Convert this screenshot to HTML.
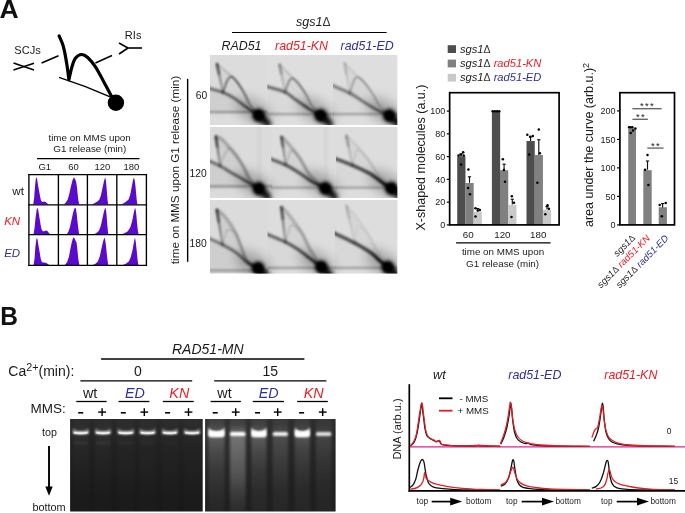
<!DOCTYPE html>
<html><head><meta charset="utf-8"><title>figure</title>
<style>
html,body{margin:0;padding:0;background:#fff;}
body{width:685px;height:513px;overflow:hidden;font-family:"Liberation Sans",sans-serif;}
svg{display:block;will-change:transform;}
svg text{font-family:"Liberation Sans",sans-serif;}
</style></head>
<body>
<svg width="685" height="513" viewBox="0 0 685 513">
<defs>
<filter id="b05" filterUnits="userSpaceOnUse" x="190" y="40" width="230" height="250"><feGaussianBlur stdDeviation="0.9"/></filter>
<filter id="b07" filterUnits="userSpaceOnUse" x="190" y="40" width="230" height="250"><feGaussianBlur stdDeviation="0.75"/></filter>
<filter id="b1" filterUnits="userSpaceOnUse" x="190" y="40" width="230" height="250"><feGaussianBlur stdDeviation="1.6"/></filter>
<filter id="b2" filterUnits="userSpaceOnUse" x="190" y="40" width="230" height="250"><feGaussianBlur stdDeviation="2.3"/></filter>
<filter id="b3" filterUnits="userSpaceOnUse" x="190" y="40" width="230" height="250"><feGaussianBlur stdDeviation="3.2"/></filter>
<filter id="b5" filterUnits="userSpaceOnUse" x="190" y="40" width="230" height="250"><feGaussianBlur stdDeviation="6"/></filter>
<clipPath id="gr0"><rect x="209.7" y="55.1" width="187.6" height="69.8"/></clipPath>
<clipPath id="gc00"><rect x="210" y="54.1" width="57.8" height="71.8"/></clipPath>
<linearGradient id="yg00" gradientUnits="userSpaceOnUse" x1="222.8" y1="92.4" x2="258.6" y2="115.3"><stop offset="0" stop-color="#000" stop-opacity="0.60"/><stop offset="0.3" stop-color="#000" stop-opacity="0.60"/><stop offset="0.7" stop-color="#000" stop-opacity="0.30"/><stop offset="1" stop-color="#000" stop-opacity="0.36"/></linearGradient>
<linearGradient id="sg00" gradientUnits="userSpaceOnUse" x1="217" y1="63.9" x2="222.8" y2="92.4"><stop offset="0" stop-color="#000" stop-opacity="0.66"/><stop offset="0.3" stop-color="#000" stop-opacity="0.51"/><stop offset="1" stop-color="#000" stop-opacity="0.28"/></linearGradient>
<linearGradient id="lg00" gradientUnits="userSpaceOnUse" x1="210" y1="88.7" x2="258.6" y2="115.3"><stop offset="0" stop-color="#000" stop-opacity="0.50"/><stop offset="0.6" stop-color="#000" stop-opacity="0.55"/><stop offset="1" stop-color="#000" stop-opacity="0.83"/></linearGradient>
<clipPath id="gc01"><rect x="267.3" y="54.1" width="66.2" height="71.8"/></clipPath>
<linearGradient id="yg01" gradientUnits="userSpaceOnUse" x1="285" y1="92.1" x2="320.6" y2="115.4"><stop offset="0" stop-color="#000" stop-opacity="0.46"/><stop offset="0.3" stop-color="#000" stop-opacity="0.46"/><stop offset="0.7" stop-color="#000" stop-opacity="0.23"/><stop offset="1" stop-color="#000" stop-opacity="0.28"/></linearGradient>
<linearGradient id="sg01" gradientUnits="userSpaceOnUse" x1="279.5" y1="64.4" x2="285" y2="92.1"><stop offset="0" stop-color="#000" stop-opacity="0.34"/><stop offset="0.3" stop-color="#000" stop-opacity="0.26"/><stop offset="1" stop-color="#000" stop-opacity="0.14"/></linearGradient>
<linearGradient id="lg01" gradientUnits="userSpaceOnUse" x1="267.5" y1="86.7" x2="320.6" y2="115.4"><stop offset="0" stop-color="#000" stop-opacity="0.49"/><stop offset="0.6" stop-color="#000" stop-opacity="0.54"/><stop offset="1" stop-color="#000" stop-opacity="0.81"/></linearGradient>
<clipPath id="gc02"><rect x="333" y="54.1" width="64.7" height="71.8"/></clipPath>
<linearGradient id="yg02" gradientUnits="userSpaceOnUse" x1="349.7" y1="93.1" x2="389.3" y2="115.6"><stop offset="0" stop-color="#000" stop-opacity="0.33"/><stop offset="0.3" stop-color="#000" stop-opacity="0.33"/><stop offset="0.7" stop-color="#000" stop-opacity="0.17"/><stop offset="1" stop-color="#000" stop-opacity="0.20"/></linearGradient>
<linearGradient id="sg02" gradientUnits="userSpaceOnUse" x1="344.6" y1="63.2" x2="349.7" y2="93.1"><stop offset="0" stop-color="#000" stop-opacity="0.18"/><stop offset="0.3" stop-color="#000" stop-opacity="0.14"/><stop offset="1" stop-color="#000" stop-opacity="0.08"/></linearGradient>
<linearGradient id="lg02" gradientUnits="userSpaceOnUse" x1="333.3" y1="85.8" x2="389.3" y2="115.6"><stop offset="0" stop-color="#000" stop-opacity="0.42"/><stop offset="0.6" stop-color="#000" stop-opacity="0.47"/><stop offset="1" stop-color="#000" stop-opacity="0.70"/></linearGradient>
<clipPath id="gr1"><rect x="209.7" y="127.1" width="187.6" height="70.8"/></clipPath>
<clipPath id="gc10"><rect x="210" y="126.1" width="61.8" height="72.8"/></clipPath>
<linearGradient id="yg10" gradientUnits="userSpaceOnUse" x1="220.1" y1="166" x2="258.8" y2="188.6"><stop offset="0" stop-color="#000" stop-opacity="0.17"/><stop offset="0.3" stop-color="#000" stop-opacity="0.17"/><stop offset="0.7" stop-color="#000" stop-opacity="0.09"/><stop offset="1" stop-color="#000" stop-opacity="0.10"/></linearGradient>
<linearGradient id="sg10" gradientUnits="userSpaceOnUse" x1="215.9" y1="136.4" x2="220.1" y2="166"><stop offset="0" stop-color="#000" stop-opacity="0.74"/><stop offset="0.3" stop-color="#000" stop-opacity="0.57"/><stop offset="1" stop-color="#000" stop-opacity="0.31"/></linearGradient>
<linearGradient id="lg10" gradientUnits="userSpaceOnUse" x1="210" y1="161.3" x2="258.8" y2="188.6"><stop offset="0" stop-color="#000" stop-opacity="0.49"/><stop offset="0.6" stop-color="#000" stop-opacity="0.54"/><stop offset="1" stop-color="#000" stop-opacity="0.81"/></linearGradient>
<clipPath id="gc11"><rect x="271.3" y="126.1" width="65.2" height="72.8"/></clipPath>
<linearGradient id="yg11" gradientUnits="userSpaceOnUse" x1="285.7" y1="164.9" x2="325.3" y2="188.3"><stop offset="0" stop-color="#000" stop-opacity="0.17"/><stop offset="0.3" stop-color="#000" stop-opacity="0.17"/><stop offset="0.7" stop-color="#000" stop-opacity="0.09"/><stop offset="1" stop-color="#000" stop-opacity="0.10"/></linearGradient>
<linearGradient id="sg11" gradientUnits="userSpaceOnUse" x1="281.5" y1="136.8" x2="285.7" y2="164.9"><stop offset="0" stop-color="#000" stop-opacity="0.64"/><stop offset="0.3" stop-color="#000" stop-opacity="0.49"/><stop offset="1" stop-color="#000" stop-opacity="0.27"/></linearGradient>
<linearGradient id="lg11" gradientUnits="userSpaceOnUse" x1="271.7" y1="159.4" x2="325.3" y2="188.3"><stop offset="0" stop-color="#000" stop-opacity="0.52"/><stop offset="0.6" stop-color="#000" stop-opacity="0.58"/><stop offset="1" stop-color="#000" stop-opacity="0.87"/></linearGradient>
<clipPath id="gc12"><rect x="336" y="126.1" width="61.7" height="72.8"/></clipPath>
<linearGradient id="yg12" gradientUnits="userSpaceOnUse" x1="352.3" y1="165.2" x2="391.3" y2="188.3"><stop offset="0" stop-color="#000" stop-opacity="0.10"/><stop offset="0.3" stop-color="#000" stop-opacity="0.10"/><stop offset="0.7" stop-color="#000" stop-opacity="0.05"/><stop offset="1" stop-color="#000" stop-opacity="0.06"/></linearGradient>
<linearGradient id="sg12" gradientUnits="userSpaceOnUse" x1="346.3" y1="135.6" x2="352.3" y2="165.2"><stop offset="0" stop-color="#000" stop-opacity="0.30"/><stop offset="0.3" stop-color="#000" stop-opacity="0.23"/><stop offset="1" stop-color="#000" stop-opacity="0.13"/></linearGradient>
<linearGradient id="lg12" gradientUnits="userSpaceOnUse" x1="336.2" y1="159" x2="391.3" y2="188.3"><stop offset="0" stop-color="#000" stop-opacity="0.59"/><stop offset="0.6" stop-color="#000" stop-opacity="0.65"/><stop offset="1" stop-color="#000" stop-opacity="0.98"/></linearGradient>
<clipPath id="gr2"><rect x="209.7" y="200.1" width="187.6" height="73.3"/></clipPath>
<clipPath id="gc20"><rect x="210" y="199.1" width="58.1" height="75.3"/></clipPath>
<linearGradient id="yg20" gradientUnits="userSpaceOnUse" x1="222.4" y1="244.7" x2="258" y2="268.2"><stop offset="0" stop-color="#000" stop-opacity="0.15"/><stop offset="0.3" stop-color="#000" stop-opacity="0.15"/><stop offset="0.7" stop-color="#000" stop-opacity="0.07"/><stop offset="1" stop-color="#000" stop-opacity="0.09"/></linearGradient>
<linearGradient id="sg20" gradientUnits="userSpaceOnUse" x1="216.9" y1="209.6" x2="222.4" y2="244.7"><stop offset="0" stop-color="#000" stop-opacity="0.74"/><stop offset="0.3" stop-color="#000" stop-opacity="0.57"/><stop offset="1" stop-color="#000" stop-opacity="0.31"/></linearGradient>
<linearGradient id="lg20" gradientUnits="userSpaceOnUse" x1="210" y1="238.9" x2="258" y2="268.2"><stop offset="0" stop-color="#000" stop-opacity="0.44"/><stop offset="0.6" stop-color="#000" stop-opacity="0.49"/><stop offset="1" stop-color="#000" stop-opacity="0.73"/></linearGradient>
<clipPath id="gc21"><rect x="267.6" y="199.1" width="67.7" height="75.3"/></clipPath>
<linearGradient id="yg21" gradientUnits="userSpaceOnUse" x1="285.3" y1="242" x2="321.3" y2="267"><stop offset="0" stop-color="#000" stop-opacity="0.15"/><stop offset="0.3" stop-color="#000" stop-opacity="0.15"/><stop offset="0.7" stop-color="#000" stop-opacity="0.07"/><stop offset="1" stop-color="#000" stop-opacity="0.09"/></linearGradient>
<linearGradient id="sg21" gradientUnits="userSpaceOnUse" x1="281.4" y1="206.9" x2="285.3" y2="242"><stop offset="0" stop-color="#000" stop-opacity="0.69"/><stop offset="0.3" stop-color="#000" stop-opacity="0.53"/><stop offset="1" stop-color="#000" stop-opacity="0.29"/></linearGradient>
<linearGradient id="lg21" gradientUnits="userSpaceOnUse" x1="268.1" y1="234.7" x2="321.3" y2="267"><stop offset="0" stop-color="#000" stop-opacity="0.52"/><stop offset="0.6" stop-color="#000" stop-opacity="0.58"/><stop offset="1" stop-color="#000" stop-opacity="0.87"/></linearGradient>
<clipPath id="gc22"><rect x="334.8" y="199.1" width="62.9" height="75.3"/></clipPath>
<linearGradient id="yg22" gradientUnits="userSpaceOnUse" x1="354.6" y1="243" x2="387.8" y2="267.3"><stop offset="0" stop-color="#000" stop-opacity="0.05"/><stop offset="0.3" stop-color="#000" stop-opacity="0.05"/><stop offset="0.7" stop-color="#000" stop-opacity="0.03"/><stop offset="1" stop-color="#000" stop-opacity="0.03"/></linearGradient>
<linearGradient id="sg22" gradientUnits="userSpaceOnUse" x1="346.4" y1="205.8" x2="354.6" y2="243"><stop offset="0" stop-color="#000" stop-opacity="0.17"/><stop offset="0.3" stop-color="#000" stop-opacity="0.13"/><stop offset="1" stop-color="#000" stop-opacity="0.07"/></linearGradient>
<linearGradient id="lg22" gradientUnits="userSpaceOnUse" x1="335.6" y1="233.9" x2="387.8" y2="267.3"><stop offset="0" stop-color="#000" stop-opacity="0.59"/><stop offset="0.6" stop-color="#000" stop-opacity="0.65"/><stop offset="1" stop-color="#000" stop-opacity="0.98"/></linearGradient>
<filter id="gb1" filterUnits="userSpaceOnUse" x="60" y="410" width="290" height="110"><feGaussianBlur stdDeviation="0.8"/></filter>
<filter id="gb15" filterUnits="userSpaceOnUse" x="60" y="410" width="290" height="110"><feGaussianBlur stdDeviation="1.3"/></filter>
<filter id="gb2" filterUnits="userSpaceOnUse" x="60" y="410" width="290" height="110"><feGaussianBlur stdDeviation="1.8 2.5"/></filter>
<clipPath id="gbc1"><rect x="70.1" y="418.9" width="132.6" height="92.7"/></clipPath>
<clipPath id="gbc2"><rect x="205.1" y="418.9" width="130.5" height="92.7"/></clipPath>
<linearGradient id="gglow1" x1="0" y1="0" x2="0" y2="1"><stop offset="0" stop-color="#fff" stop-opacity="0.07"/><stop offset="0.35" stop-color="#fff" stop-opacity="0.03"/><stop offset="0.8" stop-color="#fff" stop-opacity="0"/></linearGradient>
<linearGradient id="gglow2" x1="0" y1="0" x2="0.25" y2="1"><stop offset="0" stop-color="#fff" stop-opacity="0.10"/><stop offset="0.4" stop-color="#fff" stop-opacity="0.05"/><stop offset="0.85" stop-color="#fff" stop-opacity="0.01"/></linearGradient>
<linearGradient id="sm10" x1="0" y1="0" x2="0" y2="1"><stop offset="0" stop-color="#fff" stop-opacity="0.02"/><stop offset="0.1" stop-color="#fff" stop-opacity="0.025"/><stop offset="0.15" stop-color="#fff" stop-opacity="0.05"/><stop offset="0.3" stop-color="#fff" stop-opacity="0.03"/><stop offset="0.6" stop-color="#fff" stop-opacity="0.015"/><stop offset="1" stop-color="#fff" stop-opacity="0.006"/></linearGradient>
<linearGradient id="sm11" x1="0" y1="0" x2="0" y2="1"><stop offset="0" stop-color="#fff" stop-opacity="0.02"/><stop offset="0.1" stop-color="#fff" stop-opacity="0.025"/><stop offset="0.15" stop-color="#fff" stop-opacity="0.05"/><stop offset="0.3" stop-color="#fff" stop-opacity="0.03"/><stop offset="0.6" stop-color="#fff" stop-opacity="0.015"/><stop offset="1" stop-color="#fff" stop-opacity="0.006"/></linearGradient>
<linearGradient id="sm12" x1="0" y1="0" x2="0" y2="1"><stop offset="0" stop-color="#fff" stop-opacity="0.02"/><stop offset="0.1" stop-color="#fff" stop-opacity="0.025"/><stop offset="0.15" stop-color="#fff" stop-opacity="0.03"/><stop offset="0.3" stop-color="#fff" stop-opacity="0.018"/><stop offset="0.6" stop-color="#fff" stop-opacity="0.015"/><stop offset="1" stop-color="#fff" stop-opacity="0.006"/></linearGradient>
<linearGradient id="sm13" x1="0" y1="0" x2="0" y2="1"><stop offset="0" stop-color="#fff" stop-opacity="0.02"/><stop offset="0.1" stop-color="#fff" stop-opacity="0.025"/><stop offset="0.15" stop-color="#fff" stop-opacity="0.03"/><stop offset="0.3" stop-color="#fff" stop-opacity="0.018"/><stop offset="0.6" stop-color="#fff" stop-opacity="0.015"/><stop offset="1" stop-color="#fff" stop-opacity="0.006"/></linearGradient>
<linearGradient id="sm14" x1="0" y1="0" x2="0" y2="1"><stop offset="0" stop-color="#fff" stop-opacity="0.02"/><stop offset="0.1" stop-color="#fff" stop-opacity="0.025"/><stop offset="0.15" stop-color="#fff" stop-opacity="0.022"/><stop offset="0.3" stop-color="#fff" stop-opacity="0.013199999999999998"/><stop offset="0.6" stop-color="#fff" stop-opacity="0.015"/><stop offset="1" stop-color="#fff" stop-opacity="0.006"/></linearGradient>
<linearGradient id="sm15" x1="0" y1="0" x2="0" y2="1"><stop offset="0" stop-color="#fff" stop-opacity="0.02"/><stop offset="0.1" stop-color="#fff" stop-opacity="0.025"/><stop offset="0.15" stop-color="#fff" stop-opacity="0.022"/><stop offset="0.3" stop-color="#fff" stop-opacity="0.013199999999999998"/><stop offset="0.6" stop-color="#fff" stop-opacity="0.015"/><stop offset="1" stop-color="#fff" stop-opacity="0.006"/></linearGradient>
<linearGradient id="s2a" x1="0" y1="0" x2="0" y2="1"><stop offset="0" stop-color="#fff" stop-opacity="0.06"/><stop offset="0.1" stop-color="#fff" stop-opacity="0.09"/><stop offset="0.2" stop-color="#fff" stop-opacity="0.25"/><stop offset="0.35" stop-color="#fff" stop-opacity="0.16"/><stop offset="0.55" stop-color="#fff" stop-opacity="0.09"/><stop offset="0.8" stop-color="#fff" stop-opacity="0.05"/><stop offset="1" stop-color="#fff" stop-opacity="0.035"/></linearGradient>
<linearGradient id="s2b" x1="0" y1="0" x2="0" y2="1"><stop offset="0" stop-color="#fff" stop-opacity="0.06"/><stop offset="0.1" stop-color="#fff" stop-opacity="0.08"/><stop offset="0.2" stop-color="#fff" stop-opacity="0.34"/><stop offset="0.4" stop-color="#fff" stop-opacity="0.28"/><stop offset="0.6" stop-color="#fff" stop-opacity="0.21"/><stop offset="0.75" stop-color="#fff" stop-opacity="0.13"/><stop offset="0.9" stop-color="#fff" stop-opacity="0.07"/><stop offset="1" stop-color="#fff" stop-opacity="0.05"/></linearGradient>
<linearGradient id="s2c" x1="0" y1="0" x2="0" y2="1"><stop offset="0" stop-color="#fff" stop-opacity="0.05"/><stop offset="0.1" stop-color="#fff" stop-opacity="0.07"/><stop offset="0.2" stop-color="#fff" stop-opacity="0.17"/><stop offset="0.4" stop-color="#fff" stop-opacity="0.12"/><stop offset="0.6" stop-color="#fff" stop-opacity="0.08"/><stop offset="0.8" stop-color="#fff" stop-opacity="0.05"/><stop offset="1" stop-color="#fff" stop-opacity="0.035"/></linearGradient>
<linearGradient id="s2d" x1="0" y1="0" x2="0" y2="1"><stop offset="0" stop-color="#fff" stop-opacity="0.06"/><stop offset="0.1" stop-color="#fff" stop-opacity="0.08"/><stop offset="0.2" stop-color="#fff" stop-opacity="0.21"/><stop offset="0.35" stop-color="#fff" stop-opacity="0.13"/><stop offset="0.55" stop-color="#fff" stop-opacity="0.08"/><stop offset="0.8" stop-color="#fff" stop-opacity="0.045"/><stop offset="1" stop-color="#fff" stop-opacity="0.035"/></linearGradient>
<linearGradient id="s2e" x1="0" y1="0" x2="0" y2="1"><stop offset="0" stop-color="#fff" stop-opacity="0.04"/><stop offset="0.1" stop-color="#fff" stop-opacity="0.06"/><stop offset="0.2" stop-color="#fff" stop-opacity="0.14"/><stop offset="0.4" stop-color="#fff" stop-opacity="0.09"/><stop offset="0.6" stop-color="#fff" stop-opacity="0.06"/><stop offset="0.8" stop-color="#fff" stop-opacity="0.04"/><stop offset="1" stop-color="#fff" stop-opacity="0.03"/></linearGradient>
</defs>
<rect x="0" y="0" width="685" height="513" fill="#ffffff"/>
<text x="-0.6" y="18.1" font-size="26.5" text-anchor="start" fill="#111" font-weight="bold">A</text>
<text transform="translate(0.35,324.6) scale(0.935,1)" font-size="26.2" font-weight="bold" fill="#111">B</text>
<text x="14.3" y="54.3" font-size="11.1" text-anchor="start" fill="#1a1a1a">SCJs</text>
<text x="124.8" y="39.1" font-size="11.1" text-anchor="start" fill="#1a1a1a">RIs</text>
<line x1="13.5" y1="63" x2="34" y2="70" stroke="#000" stroke-width="1.6"/>
<line x1="13.5" y1="70" x2="34" y2="63.3" stroke="#000" stroke-width="1.6"/>
<line x1="41.6" y1="63" x2="58.5" y2="55.7" stroke="#000" stroke-width="1.6"/>
<line x1="95.4" y1="63" x2="112" y2="55.4" stroke="#000" stroke-width="1.6"/>
<line x1="119" y1="43" x2="128" y2="48" stroke="#000" stroke-width="1.6"/>
<line x1="119" y1="54" x2="128" y2="48" stroke="#000" stroke-width="1.6"/>
<line x1="128" y1="48" x2="142" y2="48" stroke="#000" stroke-width="1.6"/>
<path d="M59,77.4 Q86,86 112,97.6" fill="none" stroke="#000" stroke-width="1.5"/>
<path d="M59.1,35.9 C59.8,37.6 61.9,41.4 63.2,46.0 C64.5,50.6 65.8,58.0 66.7,63.6 C67.7,69.2 68.5,77.0 68.9,79.7 C69.4,77.6 70.8,70.7 71.9,67.1 C73.0,63.5 73.8,60.4 75.4,58.3 C77.0,56.2 79.5,54.6 81.6,54.5 C83.6,54.4 85.4,55.4 87.7,57.5 C90.0,59.6 92.8,62.9 95.6,67.1 C98.4,71.3 101.6,77.8 104.4,82.9 C107.2,88.0 111.0,95.3 112.3,97.8" fill="none" stroke="#000" stroke-width="3.2" stroke-linecap="round" stroke-linejoin="round"/>
<circle cx="115.9" cy="102.8" r="8.2" fill="#000"/>
<text x="89.6" y="140.6" font-size="9.82" text-anchor="middle" fill="#1a1a1a">time on MMS upon</text>
<text x="89.8" y="152.4" font-size="9.82" text-anchor="middle" fill="#1a1a1a">G1 release (min)</text>
<line x1="37" y1="158.5" x2="139.5" y2="158.5" stroke="#000" stroke-width="1.25"/>
<text x="44.8" y="169.5" font-size="9.5" text-anchor="middle" fill="#1a1a1a">G1</text>
<text x="73.5" y="169.5" font-size="9.5" text-anchor="middle" fill="#1a1a1a">60</text>
<text x="102.4" y="169.5" font-size="9.5" text-anchor="middle" fill="#1a1a1a">120</text>
<text x="131.4" y="169.5" font-size="9.5" text-anchor="middle" fill="#1a1a1a">180</text>
<text x="24" y="195.2" font-size="11.7" text-anchor="end" fill="#1a1a1a">wt</text>
<text x="4.2" y="224.7" font-size="11.5" text-anchor="start" fill="#ed1c24" font-style="italic">KN</text>
<text x="4.2" y="257.2" font-size="11.5" text-anchor="start" fill="#2e3192" font-style="italic">ED</text>
<polygon points="33.2,204.6 34.1,198.4 35.0,186.5 35.8,179.1 36.4,177.2 37.1,179.1 38.1,185.5 39.2,191.5 40.1,196.5 41.0,200.4 42.1,202.0 44.3,201.6 45.9,202.2 47.4,203.6 48.9,204.6" fill="#5a0acd"/>
<polygon points="63.8,204.6 65.9,202.4 67.7,199.4 69.4,193.5 70.9,186.5 72.4,180.6 73.7,177.6 75.0,178.8 76.2,182.1 77.0,187.5 77.7,194.5 78.4,200.4 79.2,204.6" fill="#5a0acd"/>
<polygon points="91.6,204.6 94.4,203.2 97.4,201.4 99.4,199.4 100.9,195.5 102.4,188.5 103.9,181.6 105.1,177.6 105.8,179.6 106.4,185.5 107.0,193.5 107.6,200.4 108.2,204.6" fill="#5a0acd"/>
<polygon points="120.4,204.6 123.8,203.2 126.8,200.9 128.6,199.4 130.3,194.5 131.8,186.5 133.0,180.1 133.8,177.8 134.6,179.6 135.4,185.5 136.2,194.5 136.8,200.4 137.4,204.6" fill="#5a0acd"/>
<polygon points="33.5,234.4 34.5,228.3 35.7,216.6 36.7,209.7 37.5,207.7 38.2,209.7 39.1,215.6 40.1,221.5 40.9,226.4 41.7,229.8 42.9,231.3 44.4,231.3 45.9,230.5 47.4,231.1 48.9,233.0 50.4,234.4" fill="#5a0acd"/>
<polygon points="66.6,234.4 68.4,231.8 69.9,227.3 71.4,220.5 72.9,213.6 74.2,208.9 75.2,207.5 76.0,209.2 76.8,214.6 77.6,222.4 78.4,229.3 79.2,234.4" fill="#5a0acd"/>
<polygon points="93.4,234.4 96.4,233.0 98.9,230.8 100.9,225.4 102.4,218.5 103.9,211.7 105.2,207.5 106.0,209.7 106.6,215.6 107.2,223.4 107.8,230.3 108.4,234.4" fill="#5a0acd"/>
<polygon points="121.4,234.4 124.8,233.0 127.8,231.3 130.3,227.3 132.3,220.5 133.8,212.6 135.0,207.7 135.6,209.2 136.4,215.6 137.2,224.4 137.8,230.3 138.6,234.4" fill="#5a0acd"/>
<polygon points="33.5,265.2 34.5,258.9 35.4,246.8 36.3,239.7 36.9,237.8 37.6,239.7 38.5,245.7 39.6,251.8 40.4,256.9 41.3,260.9 42.5,262.6 44.4,262.6 46.4,262.9 48.2,264.2 49.7,265.2" fill="#5a0acd"/>
<polygon points="64.6,265.2 66.9,262.5 68.9,256.9 70.4,248.8 71.9,241.7 73.2,237.6 74.4,238.1 75.6,240.7 76.6,242.7 77.4,249.8 78.2,257.9 79.4,265.2" fill="#5a0acd"/>
<polygon points="92.4,265.2 95.4,263.8 97.9,261.4 99.9,255.9 101.4,248.8 103.0,241.7 104.4,237.4 105.2,239.7 106.0,245.7 106.8,253.8 107.6,260.9 108.4,265.2" fill="#5a0acd"/>
<polygon points="122.4,265.2 125.8,263.8 128.8,261.4 130.8,256.9 132.6,249.8 134.0,241.7 134.9,237.4 135.6,240.7 136.4,247.8 137.2,255.9 137.8,261.4 138.4,265.2" fill="#5a0acd"/>
<line x1="28.9" y1="173.95" x2="28.9" y2="266.04999999999995" stroke="#000" stroke-width="1.35"/>
<line x1="58.4" y1="173.95" x2="58.4" y2="266.04999999999995" stroke="#000" stroke-width="1.35"/>
<line x1="87.4" y1="173.95" x2="87.4" y2="266.04999999999995" stroke="#000" stroke-width="1.35"/>
<line x1="116.8" y1="173.95" x2="116.8" y2="266.04999999999995" stroke="#000" stroke-width="1.35"/>
<line x1="146.4" y1="173.95" x2="146.4" y2="266.04999999999995" stroke="#000" stroke-width="1.35"/>
<line x1="28.25" y1="174.6" x2="147.05" y2="174.6" stroke="#000" stroke-width="1.35"/>
<line x1="28.25" y1="204.8" x2="147.05" y2="204.8" stroke="#000" stroke-width="1.35"/>
<line x1="28.25" y1="234.6" x2="147.05" y2="234.6" stroke="#000" stroke-width="1.35"/>
<line x1="28.25" y1="265.4" x2="147.05" y2="265.4" stroke="#000" stroke-width="1.35"/>
<text x="296" y="26.3" font-size="12.5" fill="#1a1a1a"><tspan font-style="italic">sgs1</tspan><tspan font-size="11.9" fill="#333">Δ</tspan></text>
<line x1="232" y1="32.5" x2="386.6" y2="32.5" stroke="#000" stroke-width="1.2"/>
<text x="221.5" y="50.3" font-size="12.4" text-anchor="start" fill="#1a1a1a" font-style="italic">RAD51</text>
<text x="275" y="50.3" font-size="12.4" text-anchor="start" fill="#ed1c24" font-style="italic">rad51-KN</text>
<text x="340.6" y="50.3" font-size="12.4" text-anchor="start" fill="#2e3192" font-style="italic">rad51-ED</text>
<line x1="187.65" y1="78.8" x2="187.65" y2="261.8" stroke="#000" stroke-width="1.4"/>
<text x="179" y="170" font-size="11.7" text-anchor="middle" fill="#1a1a1a" transform="rotate(-90 179 170)">time on MMS upon G1 release (min)</text>
<text x="207.2" y="98.7" font-size="10.3" text-anchor="end" fill="#1a1a1a">60</text>
<text x="206.8" y="176.6" font-size="10.3" text-anchor="end" fill="#1a1a1a">120</text>
<text x="206.8" y="246.7" font-size="10.3" text-anchor="end" fill="#1a1a1a">180</text>
<g clip-path="url(#gr0)">
<rect x="209.7" y="55.1" width="187.6" height="69.8" fill="#dcdcdc"/>
<rect x="210" y="54.1" width="57.9" height="71.8" fill="rgb(220,220,220)"/>
<rect x="267.3" y="54.1" width="66.3" height="71.8" fill="rgb(222,222,222)"/>
<rect x="333" y="54.1" width="64.8" height="71.8" fill="rgb(222,222,222)"/>
<ellipse cx="252.60000000000002" cy="114.3" rx="20" ry="10" fill="#000" opacity="0.26" filter="url(#b5)" transform="rotate(33 258.6 115.3)"/>
<ellipse cx="314.6" cy="114.4" rx="20" ry="10" fill="#000" opacity="0.26" filter="url(#b5)" transform="rotate(33 320.6 115.4)"/>
<ellipse cx="383.3" cy="114.6" rx="20" ry="10" fill="#000" opacity="0.26" filter="url(#b5)" transform="rotate(33 389.3 115.6)"/>
<g clip-path="url(#gc00)">
<polygon points="207.0,88.7 222.8,92.4 234.2,98.2 246.0,107.0 258.6,115.3 258.6,113.0 207.0,113.0" fill="#000" opacity="0.06" filter="url(#b3)"/>
<line x1="207" y1="112.0" x2="270.3" y2="112.01" stroke="#000" stroke-width="2.2" opacity="0.33" filter="url(#b05)"/>
<line x1="259.1" y1="53.1" x2="259.11" y2="115.3" stroke="#000" stroke-width="3" opacity="0.0" filter="url(#b1)"/>
<polygon points="217.0,63.9 231.5,76.0 234.1,78.5 237.8,83.0 241.3,88.2 245.6,95.6 249.9,104.6 258.6,115.3 246.0,107.0 234.2,98.2 222.8,92.4" fill="#000" opacity="0.03" filter="url(#b1)"/>
<path d="M217.0,63.9 C219.4,65.9 228.6,73.6 231.5,76.0 C234.4,78.4 233.1,77.4 234.1,78.5 C235.2,79.7 236.6,81.4 237.8,83.0 C239.0,84.6 240.0,86.1 241.3,88.2 C242.6,90.3 244.1,92.9 245.6,95.6 C247.0,98.4 247.7,101.3 249.9,104.6 C252.0,107.9 257.1,113.5 258.6,115.3" fill="none" stroke="#000" stroke-width="1.8" opacity="0.18" filter="url(#b05)"/>
<path d="M222.8,92.4 C223.5,90.6 225.9,83.8 226.9,81.4 C227.9,79.0 228.4,78.6 229.1,77.8 C229.8,77.0 230.2,76.7 231.0,76.8 C231.8,76.9 233.0,77.5 234.1,78.5 C235.2,79.6 236.6,81.4 237.8,83.0 C239.0,84.6 240.0,86.1 241.3,88.2 C242.6,90.3 244.1,92.9 245.6,95.6 C247.0,98.4 247.7,101.3 249.9,104.6 C252.0,107.9 257.1,113.5 258.6,115.3" fill="none" stroke="url(#yg00)" stroke-width="1.55" filter="url(#b05)"/>
<path d="M217,63.9 L222.8,92.4" fill="none" stroke="url(#sg00)" stroke-width="1.9" filter="url(#b05)" stroke-linecap="round"/>
<path d="M217,64.4 L218.9,73.3" fill="none" stroke="#000" stroke-width="3.3" opacity="0.26" filter="url(#b05)" stroke-linecap="round"/>
<path d="M207.0,87.7 C207.5,87.9 207.4,87.9 210.0,88.7 C212.6,89.5 218.8,90.8 222.8,92.4 C226.8,94.0 230.3,95.8 234.2,98.2 C238.1,100.6 241.9,104.2 246.0,107.0 C250.1,109.8 256.5,113.9 258.6,115.3" fill="none" stroke="#000" stroke-width="5" opacity="0.08" filter="url(#b1)"/>
<path d="M207.0,87.7 C207.5,87.9 207.4,87.9 210.0,88.7 C212.6,89.5 218.8,90.8 222.8,92.4 C226.8,94.0 230.3,95.8 234.2,98.2 C238.1,100.6 241.9,104.2 246.0,107.0 C250.1,109.8 256.5,113.9 258.6,115.3" fill="none" stroke="url(#lg00)" stroke-width="2.4" filter="url(#b05)"/>
<circle cx="222.8" cy="92.4" r="1.6" fill="#000" opacity="0.12" filter="url(#b05)"/>
</g>
<g clip-path="url(#gc01)">
<polygon points="264.5,86.7 285.0,92.1 295.9,99.9 308.4,108.5 320.6,115.4 320.6,115.2 264.3,115.2" fill="#000" opacity="0.02" filter="url(#b3)"/>
<line x1="264.3" y1="114.2" x2="336" y2="114.21000000000001" stroke="#000" stroke-width="2.2" opacity="0.27" filter="url(#b05)"/>
<line x1="321.1" y1="53.1" x2="321.11" y2="115.4" stroke="#000" stroke-width="3" opacity="0.0" filter="url(#b1)"/>
<polygon points="279.5,64.4 292.5,77.5 295.2,80.0 299.0,84.3 302.6,89.3 307.1,96.4 311.6,105.1 320.6,115.4 308.4,108.5 295.9,99.9 285.0,92.1" fill="#000" opacity="0.03" filter="url(#b1)"/>
<path d="M279.5,64.4 C281.7,66.6 289.9,74.9 292.5,77.5 C295.1,80.1 294.1,78.8 295.2,80.0 C296.3,81.1 297.8,82.7 299.0,84.3 C300.2,85.8 301.3,87.3 302.6,89.3 C304.0,91.3 305.6,93.8 307.1,96.4 C308.6,99.1 309.3,101.9 311.6,105.1 C313.8,108.2 319.1,113.7 320.6,115.4" fill="none" stroke="#000" stroke-width="1.8" opacity="0.14" filter="url(#b05)"/>
<path d="M285.0,92.1 C285.6,90.5 287.6,84.5 288.5,82.4 C289.4,80.2 289.8,79.9 290.4,79.2 C291.0,78.5 291.2,78.2 292.0,78.3 C292.8,78.4 294.1,79.0 295.2,80.0 C296.4,81.0 297.8,82.7 299.0,84.3 C300.2,85.8 301.3,87.3 302.6,89.3 C304.0,91.3 305.6,93.8 307.1,96.4 C308.6,99.1 309.3,101.9 311.6,105.1 C313.8,108.2 319.1,113.7 320.6,115.4" fill="none" stroke="url(#yg01)" stroke-width="1.55" filter="url(#b05)"/>
<path d="M279.5,64.4 L285,92.1" fill="none" stroke="url(#sg01)" stroke-width="1.9" filter="url(#b05)" stroke-linecap="round"/>
<path d="M279.5,64.9 L281.3,73.5" fill="none" stroke="#000" stroke-width="3.3" opacity="0.13" filter="url(#b05)" stroke-linecap="round"/>
<path d="M264.5,85.7 C265.0,85.9 264.1,85.6 267.5,86.7 C270.9,87.8 280.3,89.9 285.0,92.1 C289.7,94.3 292.0,97.2 295.9,99.9 C299.8,102.6 304.3,105.9 308.4,108.5 C312.5,111.1 318.6,114.2 320.6,115.4" fill="none" stroke="#000" stroke-width="5" opacity="0.08" filter="url(#b1)"/>
<path d="M264.5,85.7 C265.0,85.9 264.1,85.6 267.5,86.7 C270.9,87.8 280.3,89.9 285.0,92.1 C289.7,94.3 292.0,97.2 295.9,99.9 C299.8,102.6 304.3,105.9 308.4,108.5 C312.5,111.1 318.6,114.2 320.6,115.4" fill="none" stroke="url(#lg01)" stroke-width="2.6" filter="url(#b05)"/>
<circle cx="285" cy="92.1" r="1.6" fill="#000" opacity="0.12" filter="url(#b05)"/>
</g>
<g clip-path="url(#gc02)">
<polygon points="330.3,85.8 349.7,93.1 361.4,100.4 373.1,107.7 389.3,115.6 389.3,115.2 330.0,115.2" fill="#000" opacity="0.02" filter="url(#b3)"/>
<line x1="330" y1="114.2" x2="400.2" y2="114.21000000000001" stroke="#000" stroke-width="2.2" opacity="0.27" filter="url(#b05)"/>
<line x1="389.8" y1="53.1" x2="389.81" y2="115.6" stroke="#000" stroke-width="3" opacity="0.0" filter="url(#b1)"/>
<polygon points="344.6,63.2 357.5,76.2 360.6,78.7 364.9,83.2 369.0,88.4 374.1,95.9 379.1,104.9 389.3,115.6 373.1,107.7 361.4,100.4 349.7,93.1" fill="#000" opacity="0.03" filter="url(#b1)"/>
<path d="M344.6,63.2 C346.8,65.4 354.8,73.6 357.5,76.2 C360.2,78.8 359.4,77.6 360.6,78.7 C361.9,79.9 363.5,81.6 364.9,83.2 C366.3,84.8 367.5,86.3 369.0,88.4 C370.5,90.5 372.4,93.1 374.1,95.9 C375.7,98.6 376.6,101.6 379.1,104.9 C381.6,108.2 387.6,113.8 389.3,115.6" fill="none" stroke="#000" stroke-width="1.8" opacity="0.09" filter="url(#b05)"/>
<path d="M349.7,93.1 C350.3,91.2 352.4,84.3 353.4,81.7 C354.3,79.2 354.7,78.8 355.3,78.0 C355.9,77.2 356.1,76.9 357.0,77.0 C357.9,77.1 359.3,77.7 360.6,78.7 C362.0,79.8 363.5,81.6 364.9,83.2 C366.3,84.8 367.5,86.3 369.0,88.4 C370.5,90.5 372.4,93.1 374.1,95.9 C375.7,98.6 376.6,101.6 379.1,104.9 C381.6,108.2 387.6,113.8 389.3,115.6" fill="none" stroke="url(#yg02)" stroke-width="1.55" filter="url(#b05)"/>
<path d="M344.6,63.2 L349.7,93.1" fill="none" stroke="url(#sg02)" stroke-width="1.9" filter="url(#b05)" stroke-linecap="round"/>
<path d="M344.6,63.7 L346.3,73.1" fill="none" stroke="#000" stroke-width="3.3" opacity="0.07" filter="url(#b05)" stroke-linecap="round"/>
<path d="M330.3,84.8 C330.8,85.0 330.1,84.4 333.3,85.8 C336.5,87.2 345.0,90.7 349.7,93.1 C354.4,95.5 357.5,98.0 361.4,100.4 C365.3,102.8 368.5,105.2 373.1,107.7 C377.8,110.2 386.6,114.3 389.3,115.6" fill="none" stroke="#000" stroke-width="5" opacity="0.08" filter="url(#b1)"/>
<path d="M330.3,84.8 C330.8,85.0 330.1,84.4 333.3,85.8 C336.5,87.2 345.0,90.7 349.7,93.1 C354.4,95.5 357.5,98.0 361.4,100.4 C365.3,102.8 368.5,105.2 373.1,107.7 C377.8,110.2 386.6,114.3 389.3,115.6" fill="none" stroke="url(#lg02)" stroke-width="2.4" filter="url(#b05)"/>
<circle cx="349.7" cy="93.1" r="1.6" fill="#000" opacity="0.12" filter="url(#b05)"/>
</g>
<ellipse cx="264.1" cy="120.3" rx="9" ry="3.8" fill="#000" opacity="0.95" filter="url(#b2)" transform="rotate(42 264.1 120.3)"/>
<ellipse cx="258.6" cy="115.3" rx="6.3" ry="6.5" fill="#000" filter="url(#b2)"/>
<ellipse cx="258.6" cy="115.3" rx="4.6" ry="4.9" fill="#000" filter="url(#b1)"/>
<ellipse cx="326.1" cy="120.4" rx="9" ry="3.8" fill="#000" opacity="0.95" filter="url(#b2)" transform="rotate(42 326.1 120.4)"/>
<ellipse cx="320.6" cy="115.4" rx="6.3" ry="6.5" fill="#000" filter="url(#b2)"/>
<ellipse cx="320.6" cy="115.4" rx="4.6" ry="4.9" fill="#000" filter="url(#b1)"/>
<ellipse cx="394.8" cy="120.6" rx="9" ry="3.8" fill="#000" opacity="0.95" filter="url(#b2)" transform="rotate(42 394.8 120.6)"/>
<ellipse cx="389.3" cy="115.6" rx="6.3" ry="6.5" fill="#000" filter="url(#b2)"/>
<ellipse cx="389.3" cy="115.6" rx="4.6" ry="4.9" fill="#000" filter="url(#b1)"/>
</g>
<g clip-path="url(#gr1)">
<rect x="209.7" y="127.1" width="187.6" height="70.8" fill="#dcdcdc"/>
<rect x="210" y="126.1" width="61.9" height="72.8" fill="rgb(219,219,219)"/>
<rect x="271.3" y="126.1" width="65.3" height="72.8" fill="rgb(221,221,221)"/>
<rect x="336" y="126.1" width="61.8" height="72.8" fill="rgb(221,221,221)"/>
<ellipse cx="252.8" cy="187.6" rx="20" ry="10" fill="#000" opacity="0.26" filter="url(#b5)" transform="rotate(33 258.8 188.6)"/>
<ellipse cx="319.3" cy="187.3" rx="20" ry="10" fill="#000" opacity="0.26" filter="url(#b5)" transform="rotate(33 325.3 188.3)"/>
<ellipse cx="385.3" cy="187.3" rx="20" ry="10" fill="#000" opacity="0.26" filter="url(#b5)" transform="rotate(33 391.3 188.3)"/>
<g clip-path="url(#gc10)">
<polygon points="207.0,161.3 220.1,166.0 230.7,172.3 245.6,180.8 258.8,188.6 258.8,187.3 207.0,187.3" fill="#000" opacity="0.06" filter="url(#b3)"/>
<line x1="207" y1="186.3" x2="274.3" y2="186.31" stroke="#000" stroke-width="2.2" opacity="0.33" filter="url(#b05)"/>
<line x1="259.3" y1="125.1" x2="259.31" y2="188.6" stroke="#000" stroke-width="3" opacity="0.04" filter="url(#b1)"/>
<polygon points="215.9,136.4 222.2,139.5 230.0,148.1 237.0,156.7 241.7,163.7 245.9,171.5 250.2,180.0 258.8,188.6 245.6,180.8 230.7,172.3 220.1,166.0" fill="#000" opacity="0.05" filter="url(#b1)"/>
<path d="M215.9,136.4 C216.9,136.9 219.8,137.6 222.2,139.5 C224.5,141.4 227.5,145.2 230.0,148.1 C232.5,151.0 235.1,154.1 237.0,156.7 C238.9,159.3 240.2,161.2 241.7,163.7 C243.2,166.2 244.5,168.8 245.9,171.5 C247.3,174.2 248.0,177.2 250.2,180.0 C252.3,182.8 257.4,187.2 258.8,188.6" fill="none" stroke="#000" stroke-width="2.8" opacity="0.25" filter="url(#b1)"/>
<path d="M215.9,136.4 C216.9,136.9 219.8,137.6 222.2,139.5 C224.5,141.4 227.5,145.2 230.0,148.1 C232.5,151.0 235.1,154.1 237.0,156.7 C238.9,159.3 240.2,161.2 241.7,163.7 C243.2,166.2 244.5,168.8 245.9,171.5 C247.3,174.2 248.0,177.2 250.2,180.0 C252.3,182.8 257.4,187.2 258.8,188.6" fill="none" stroke="#000" stroke-width="1.4" opacity="0.12" filter="url(#b05)"/>
<path d="M220.1,166.0 C220.4,165.0 221.3,161.8 222.2,159.8 C223.1,157.7 224.0,155.4 225.3,153.5 C226.6,151.6 228.1,147.6 230.0,148.1 C231.9,148.6 235.1,154.1 237.0,156.7 C238.9,159.3 240.2,161.2 241.7,163.7 C243.2,166.2 244.5,168.8 245.9,171.5 C247.3,174.2 248.0,177.2 250.2,180.0 C252.3,182.8 257.4,187.2 258.8,188.6" fill="none" stroke="url(#yg10)" stroke-width="1.55" filter="url(#b05)"/>
<path d="M215.9,136.4 L220.1,166" fill="none" stroke="url(#sg10)" stroke-width="1.9" filter="url(#b05)" stroke-linecap="round"/>
<path d="M215.9,136.9 L217.3,146.2" fill="none" stroke="#000" stroke-width="3.3" opacity="0.28" filter="url(#b05)" stroke-linecap="round"/>
<path d="M207.0,160.3 C207.5,160.5 207.8,160.4 210.0,161.3 C212.2,162.2 216.7,164.2 220.1,166.0 C223.5,167.8 226.4,169.8 230.7,172.3 C234.9,174.8 240.9,178.1 245.6,180.8 C250.3,183.5 256.6,187.3 258.8,188.6" fill="none" stroke="#000" stroke-width="5" opacity="0.08" filter="url(#b1)"/>
<path d="M207.0,160.3 C207.5,160.5 207.8,160.4 210.0,161.3 C212.2,162.2 216.7,164.2 220.1,166.0 C223.5,167.8 226.4,169.8 230.7,172.3 C234.9,174.8 240.9,178.1 245.6,180.8 C250.3,183.5 256.6,187.3 258.8,188.6" fill="none" stroke="url(#lg10)" stroke-width="2.5" filter="url(#b05)"/>
<circle cx="220.1" cy="166" r="1.6" fill="#000" opacity="0.12" filter="url(#b05)"/>
</g>
<g clip-path="url(#gc11)">
<polygon points="268.7,159.4 285.7,164.9 299.0,172.7 311.5,181.3 325.3,188.3 325.3,188.6 268.3,188.6" fill="#000" opacity="0.02" filter="url(#b3)"/>
<line x1="268.3" y1="187.6" x2="339" y2="187.60999999999999" stroke="#000" stroke-width="2.2" opacity="0.27" filter="url(#b05)"/>
<line x1="325.8" y1="125.1" x2="325.81" y2="188.3" stroke="#000" stroke-width="3" opacity="0.04" filter="url(#b1)"/>
<polygon points="281.5,136.8 286.5,141.5 291.2,147.0 300.6,159.4 309.9,175.0 325.3,188.3 311.5,181.3 299.0,172.7 285.7,164.9" fill="#000" opacity="0.04" filter="url(#b1)"/>
<path d="M281.5,136.8 C282.3,137.6 284.9,139.8 286.5,141.5 C288.1,143.2 288.8,144.0 291.2,147.0 C293.6,150.0 297.5,154.7 300.6,159.4 C303.7,164.1 305.8,170.2 309.9,175.0 C314.0,179.8 322.7,186.1 325.3,188.3" fill="none" stroke="#000" stroke-width="2.8" opacity="0.21" filter="url(#b1)"/>
<path d="M281.5,136.8 C282.3,137.6 284.9,139.8 286.5,141.5 C288.1,143.2 288.8,144.0 291.2,147.0 C293.6,150.0 297.5,154.7 300.6,159.4 C303.7,164.1 305.8,170.2 309.9,175.0 C314.0,179.8 322.7,186.1 325.3,188.3" fill="none" stroke="#000" stroke-width="1.4" opacity="0.10" filter="url(#b05)"/>
<path d="M285.7,164.9 C286.1,163.7 287.3,160.0 288.4,157.5 C289.4,155.0 290.0,149.8 292.0,150.1 C294.0,150.4 297.6,155.2 300.6,159.4 C303.6,163.6 305.8,170.2 309.9,175.0 C314.0,179.8 322.7,186.1 325.3,188.3" fill="none" stroke="url(#yg11)" stroke-width="1.55" filter="url(#b05)"/>
<path d="M281.5,136.8 L285.7,164.9" fill="none" stroke="url(#sg11)" stroke-width="1.9" filter="url(#b05)" stroke-linecap="round"/>
<path d="M281.5,137.3 L282.9,146.1" fill="none" stroke="#000" stroke-width="3.3" opacity="0.24" filter="url(#b05)" stroke-linecap="round"/>
<path d="M268.7,158.4 C269.2,158.6 268.9,158.3 271.7,159.4 C274.5,160.5 281.1,162.7 285.7,164.9 C290.2,167.1 294.7,170.0 299.0,172.7 C303.3,175.4 307.1,178.7 311.5,181.3 C315.9,183.9 323.0,187.1 325.3,188.3" fill="none" stroke="#000" stroke-width="5" opacity="0.08" filter="url(#b1)"/>
<path d="M268.7,158.4 C269.2,158.6 268.9,158.3 271.7,159.4 C274.5,160.5 281.1,162.7 285.7,164.9 C290.2,167.1 294.7,170.0 299.0,172.7 C303.3,175.4 307.1,178.7 311.5,181.3 C315.9,183.9 323.0,187.1 325.3,188.3" fill="none" stroke="url(#lg11)" stroke-width="2.9" filter="url(#b05)"/>
<circle cx="285.7" cy="164.9" r="1.6" fill="#000" opacity="0.12" filter="url(#b05)"/>
</g>
<g clip-path="url(#gc12)">
<polygon points="333.2,159.0 352.3,165.2 370.2,173.8 384.2,184.0 391.3,188.3 391.3,188.6 333.0,188.6" fill="#000" opacity="0.02" filter="url(#b3)"/>
<line x1="333" y1="187.6" x2="400.2" y2="187.60999999999999" stroke="#000" stroke-width="2.2" opacity="0.27" filter="url(#b05)"/>
<line x1="391.8" y1="125.1" x2="391.81" y2="188.3" stroke="#000" stroke-width="3" opacity="0.0" filter="url(#b1)"/>
<polygon points="346.3,135.6 357.0,146.0 367.0,158.0 378.0,174.0 391.3,188.3 384.2,184.0 370.2,173.8 352.3,165.2" fill="#000" opacity="0.03" filter="url(#b1)"/>
<path d="M346.3,135.6 C348.1,137.3 353.6,142.3 357.0,146.0 C360.4,149.7 363.5,153.3 367.0,158.0 C370.5,162.7 373.9,168.9 378.0,174.0 C382.1,179.1 389.1,185.9 391.3,188.3" fill="none" stroke="#000" stroke-width="2.8" opacity="0.06" filter="url(#b1)"/>
<path d="M346.3,135.6 C348.1,137.3 353.6,142.3 357.0,146.0 C360.4,149.7 363.5,153.3 367.0,158.0 C370.5,162.7 373.9,168.9 378.0,174.0 C382.1,179.1 389.1,185.9 391.3,188.3" fill="none" stroke="#000" stroke-width="1.4" opacity="0.03" filter="url(#b05)"/>
<path d="M352.3,165.2 C352.7,163.9 353.6,160.0 354.5,157.4 C355.4,154.8 355.6,149.5 357.7,149.6 C359.8,149.7 363.6,153.9 367.0,158.0 C370.4,162.1 373.9,168.9 378.0,174.0 C382.1,179.1 389.1,185.9 391.3,188.3" fill="none" stroke="url(#yg12)" stroke-width="1.55" filter="url(#b05)"/>
<path d="M346.3,135.6 L352.3,165.2" fill="none" stroke="url(#sg12)" stroke-width="1.9" filter="url(#b05)" stroke-linecap="round"/>
<path d="M346.3,136.1 L348.3,145.4" fill="none" stroke="#000" stroke-width="3.3" opacity="0.12" filter="url(#b05)" stroke-linecap="round"/>
<path d="M333.2,158.0 C333.7,158.2 333.0,157.8 336.2,159.0 C339.4,160.2 346.6,162.7 352.3,165.2 C358.0,167.7 364.9,170.7 370.2,173.8 C375.5,176.9 380.7,181.6 384.2,184.0 C387.7,186.4 390.1,187.6 391.3,188.3" fill="none" stroke="#000" stroke-width="5" opacity="0.08" filter="url(#b1)"/>
<path d="M333.2,158.0 C333.7,158.2 333.0,157.8 336.2,159.0 C339.4,160.2 346.6,162.7 352.3,165.2 C358.0,167.7 364.9,170.7 370.2,173.8 C375.5,176.9 380.7,181.6 384.2,184.0 C387.7,186.4 390.1,187.6 391.3,188.3" fill="none" stroke="url(#lg12)" stroke-width="3.4" filter="url(#b05)"/>
<circle cx="352.3" cy="165.2" r="1.6" fill="#000" opacity="0.12" filter="url(#b05)"/>
</g>
<ellipse cx="264.3" cy="193.6" rx="9" ry="3.8" fill="#000" opacity="0.95" filter="url(#b2)" transform="rotate(42 264.3 193.6)"/>
<ellipse cx="258.8" cy="188.6" rx="6.3" ry="6.5" fill="#000" filter="url(#b2)"/>
<ellipse cx="258.8" cy="188.6" rx="4.6" ry="4.9" fill="#000" filter="url(#b1)"/>
<ellipse cx="330.8" cy="193.3" rx="9" ry="3.8" fill="#000" opacity="0.95" filter="url(#b2)" transform="rotate(42 330.8 193.3)"/>
<ellipse cx="325.3" cy="188.3" rx="6.3" ry="6.5" fill="#000" filter="url(#b2)"/>
<ellipse cx="325.3" cy="188.3" rx="4.6" ry="4.9" fill="#000" filter="url(#b1)"/>
<ellipse cx="396.8" cy="193.3" rx="9" ry="3.8" fill="#000" opacity="0.95" filter="url(#b2)" transform="rotate(42 396.8 193.3)"/>
<ellipse cx="391.3" cy="188.3" rx="6.3" ry="6.5" fill="#000" filter="url(#b2)"/>
<ellipse cx="391.3" cy="188.3" rx="4.6" ry="4.9" fill="#000" filter="url(#b1)"/>
</g>
<g clip-path="url(#gr2)">
<rect x="209.7" y="200.1" width="187.6" height="73.3" fill="#dcdcdc"/>
<rect x="210" y="199.1" width="58.2" height="75.3" fill="rgb(219,219,219)"/>
<rect x="267.6" y="199.1" width="67.8" height="75.3" fill="rgb(221,221,221)"/>
<rect x="334.8" y="199.1" width="63.0" height="75.3" fill="rgb(221,221,221)"/>
<ellipse cx="252" cy="267.2" rx="20" ry="10" fill="#000" opacity="0.26" filter="url(#b5)" transform="rotate(33 258 268.2)"/>
<ellipse cx="315.3" cy="266" rx="20" ry="10" fill="#000" opacity="0.26" filter="url(#b5)" transform="rotate(33 321.3 267)"/>
<ellipse cx="381.8" cy="266.3" rx="20" ry="10" fill="#000" opacity="0.26" filter="url(#b5)" transform="rotate(33 387.8 267.3)"/>
<g clip-path="url(#gc20)">
<polygon points="207.0,238.9 222.4,244.7 236.5,253.0 248.0,262.9 258.0,268.2 258.0,271.5 207.0,271.5" fill="#000" opacity="0.06" filter="url(#b3)"/>
<line x1="207" y1="270.5" x2="270.6" y2="270.51" stroke="#000" stroke-width="2.2" opacity="0.33" filter="url(#b05)"/>
<line x1="258.5" y1="198.1" x2="258.51" y2="268.2" stroke="#000" stroke-width="3" opacity="0.0" filter="url(#b1)"/>
<polygon points="216.9,209.6 223.2,214.9 229.8,223.1 235.6,233.1 239.8,243.0 243.1,252.1 247.2,261.2 258.0,268.2 248.0,262.9 236.5,253.0 222.4,244.7" fill="#000" opacity="0.05" filter="url(#b1)"/>
<path d="M216.9,209.6 C217.9,210.5 221.0,212.7 223.2,214.9 C225.3,217.2 227.7,220.1 229.8,223.1 C231.9,226.1 233.9,229.8 235.6,233.1 C237.3,236.4 238.6,239.8 239.8,243.0 C241.1,246.2 241.9,249.1 243.1,252.1 C244.3,255.1 244.7,258.5 247.2,261.2 C249.7,263.9 256.2,267.0 258.0,268.2" fill="none" stroke="#000" stroke-width="2.8" opacity="0.23" filter="url(#b1)"/>
<path d="M216.9,209.6 C217.9,210.5 221.0,212.7 223.2,214.9 C225.3,217.2 227.7,220.1 229.8,223.1 C231.9,226.1 233.9,229.8 235.6,233.1 C237.3,236.4 238.6,239.8 239.8,243.0 C241.1,246.2 241.9,249.1 243.1,252.1 C244.3,255.1 244.7,258.5 247.2,261.2 C249.7,263.9 256.2,267.0 258.0,268.2" fill="none" stroke="#000" stroke-width="1.4" opacity="0.11" filter="url(#b05)"/>
<path d="M222.4,244.7 C222.7,243.5 223.6,239.7 224.4,237.2 C225.2,234.8 225.5,230.5 227.4,229.8 C229.3,229.1 233.5,230.9 235.6,233.1 C237.7,235.3 238.6,239.8 239.8,243.0 C241.1,246.2 241.9,249.1 243.1,252.1 C244.3,255.1 244.7,258.5 247.2,261.2 C249.7,263.9 256.2,267.0 258.0,268.2" fill="none" stroke="url(#yg20)" stroke-width="1.55" filter="url(#b05)"/>
<path d="M216.9,209.6 L222.4,244.7" fill="none" stroke="url(#sg20)" stroke-width="1.9" filter="url(#b05)" stroke-linecap="round"/>
<path d="M216.9,210.1 L218.7,221.2" fill="none" stroke="#000" stroke-width="3.3" opacity="0.28" filter="url(#b05)" stroke-linecap="round"/>
<path d="M207.0,237.9 C207.5,238.1 207.4,237.8 210.0,238.9 C212.6,240.0 218.0,242.3 222.4,244.7 C226.8,247.0 232.2,250.0 236.5,253.0 C240.8,256.0 244.4,260.4 248.0,262.9 C251.6,265.4 256.3,267.3 258.0,268.2" fill="none" stroke="#000" stroke-width="5" opacity="0.08" filter="url(#b1)"/>
<path d="M207.0,237.9 C207.5,238.1 207.4,237.8 210.0,238.9 C212.6,240.0 218.0,242.3 222.4,244.7 C226.8,247.0 232.2,250.0 236.5,253.0 C240.8,256.0 244.4,260.4 248.0,262.9 C251.6,265.4 256.3,267.3 258.0,268.2" fill="none" stroke="url(#lg20)" stroke-width="2.6" filter="url(#b05)"/>
<circle cx="222.4" cy="244.7" r="1.6" fill="#000" opacity="0.12" filter="url(#b05)"/>
</g>
<g clip-path="url(#gc21)">
<polygon points="265.1,234.7 285.3,242.0 297.4,249.0 309.9,258.4 321.3,267.0 321.3,268.8 264.6,268.8" fill="#000" opacity="0.02" filter="url(#b3)"/>
<line x1="264.6" y1="267.8" x2="337.8" y2="267.81" stroke="#000" stroke-width="2.2" opacity="0.27" filter="url(#b05)"/>
<line x1="321.8" y1="198.1" x2="321.81" y2="267" stroke="#000" stroke-width="3" opacity="0.0" filter="url(#b1)"/>
<polygon points="281.4,206.9 286.0,211.5 291.2,217.8 302.1,233.4 309.9,249.0 321.3,267.0 309.9,258.4 297.4,249.0 285.3,242.0" fill="#000" opacity="0.04" filter="url(#b1)"/>
<path d="M281.4,206.9 C282.2,207.7 284.4,209.7 286.0,211.5 C287.6,213.3 288.5,214.2 291.2,217.8 C293.9,221.5 299.0,228.2 302.1,233.4 C305.2,238.6 306.7,243.4 309.9,249.0 C313.1,254.6 319.4,264.0 321.3,267.0" fill="none" stroke="#000" stroke-width="2.8" opacity="0.20" filter="url(#b1)"/>
<path d="M281.4,206.9 C282.2,207.7 284.4,209.7 286.0,211.5 C287.6,213.3 288.5,214.2 291.2,217.8 C293.9,221.5 299.0,228.2 302.1,233.4 C305.2,238.6 306.7,243.4 309.9,249.0 C313.1,254.6 319.4,264.0 321.3,267.0" fill="none" stroke="#000" stroke-width="1.4" opacity="0.09" filter="url(#b05)"/>
<path d="M285.3,242.0 C285.8,240.6 287.0,236.3 288.1,233.4 C289.3,230.6 289.7,224.9 292.0,224.9 C294.3,224.9 299.1,229.4 302.1,233.4 C305.1,237.4 306.7,243.4 309.9,249.0 C313.1,254.6 319.4,264.0 321.3,267.0" fill="none" stroke="url(#yg21)" stroke-width="1.55" filter="url(#b05)"/>
<path d="M281.4,206.9 L285.3,242" fill="none" stroke="url(#sg21)" stroke-width="1.9" filter="url(#b05)" stroke-linecap="round"/>
<path d="M281.4,207.4 L282.7,218.5" fill="none" stroke="#000" stroke-width="3.3" opacity="0.27" filter="url(#b05)" stroke-linecap="round"/>
<path d="M265.1,233.7 C265.6,233.9 264.7,233.3 268.1,234.7 C271.5,236.1 280.4,239.6 285.3,242.0 C290.2,244.4 293.3,246.3 297.4,249.0 C301.5,251.7 305.9,255.4 309.9,258.4 C313.9,261.4 319.4,265.6 321.3,267.0" fill="none" stroke="#000" stroke-width="5" opacity="0.08" filter="url(#b1)"/>
<path d="M265.1,233.7 C265.6,233.9 264.7,233.3 268.1,234.7 C271.5,236.1 280.4,239.6 285.3,242.0 C290.2,244.4 293.3,246.3 297.4,249.0 C301.5,251.7 305.9,255.4 309.9,258.4 C313.9,261.4 319.4,265.6 321.3,267.0" fill="none" stroke="url(#lg21)" stroke-width="2.9" filter="url(#b05)"/>
<circle cx="285.3" cy="242" r="1.6" fill="#000" opacity="0.12" filter="url(#b05)"/>
</g>
<g clip-path="url(#gc22)">
<polygon points="332.6,233.9 354.6,243.0 371.2,253.0 380.0,261.0 387.8,267.3 387.8,268.8 331.8,268.8" fill="#000" opacity="0.02" filter="url(#b3)"/>
<line x1="331.8" y1="267.8" x2="400.2" y2="267.81" stroke="#000" stroke-width="2.2" opacity="0.27" filter="url(#b05)"/>
<line x1="388.3" y1="198.1" x2="388.31" y2="267.3" stroke="#000" stroke-width="3" opacity="0.0" filter="url(#b1)"/>
<polygon points="346.4,205.8 357.0,218.0 368.0,234.0 378.0,252.0 387.8,267.3 380.0,261.0 371.2,253.0 354.6,243.0" fill="#000" opacity="0.03" filter="url(#b1)"/>
<path d="M346.4,205.8 C348.2,207.8 353.4,213.3 357.0,218.0 C360.6,222.7 364.5,228.3 368.0,234.0 C371.5,239.7 374.7,246.4 378.0,252.0 C381.3,257.6 386.2,264.8 387.8,267.3" fill="none" stroke="#000" stroke-width="2.8" opacity="0.04" filter="url(#b1)"/>
<path d="M346.4,205.8 C348.2,207.8 353.4,213.3 357.0,218.0 C360.6,222.7 364.5,228.3 368.0,234.0 C371.5,239.7 374.7,246.4 378.0,252.0 C381.3,257.6 386.2,264.8 387.8,267.3" fill="none" stroke="#000" stroke-width="1.4" opacity="0.02" filter="url(#b05)"/>
<path d="M354.6,243.0 C354.8,241.6 355.2,237.3 355.8,234.5 C356.4,231.7 356.0,226.1 358.0,226.0 C360.0,225.9 364.7,229.7 368.0,234.0 C371.3,238.3 374.7,246.4 378.0,252.0 C381.3,257.6 386.2,264.8 387.8,267.3" fill="none" stroke="url(#yg22)" stroke-width="1.55" filter="url(#b05)"/>
<path d="M346.4,205.8 L354.6,243" fill="none" stroke="url(#sg22)" stroke-width="1.9" filter="url(#b05)" stroke-linecap="round"/>
<path d="M346.4,206.3 L349.1,218.1" fill="none" stroke="#000" stroke-width="3.3" opacity="0.07" filter="url(#b05)" stroke-linecap="round"/>
<path d="M332.6,232.9 C333.1,233.1 331.9,232.2 335.6,233.9 C339.3,235.6 348.7,239.8 354.6,243.0 C360.5,246.2 367.0,250.0 371.2,253.0 C375.4,256.0 377.2,258.6 380.0,261.0 C382.8,263.4 386.5,266.2 387.8,267.3" fill="none" stroke="#000" stroke-width="5" opacity="0.08" filter="url(#b1)"/>
<path d="M332.6,232.9 C333.1,233.1 331.9,232.2 335.6,233.9 C339.3,235.6 348.7,239.8 354.6,243.0 C360.5,246.2 367.0,250.0 371.2,253.0 C375.4,256.0 377.2,258.6 380.0,261.0 C382.8,263.4 386.5,266.2 387.8,267.3" fill="none" stroke="url(#lg22)" stroke-width="3.4" filter="url(#b05)"/>
<circle cx="354.6" cy="243" r="1.6" fill="#000" opacity="0.12" filter="url(#b05)"/>
</g>
<ellipse cx="263.5" cy="273.2" rx="9" ry="3.8" fill="#000" opacity="0.95" filter="url(#b2)" transform="rotate(42 263.5 273.2)"/>
<ellipse cx="258" cy="268.2" rx="6.3" ry="6.5" fill="#000" filter="url(#b2)"/>
<ellipse cx="258" cy="268.2" rx="4.6" ry="4.9" fill="#000" filter="url(#b1)"/>
<ellipse cx="326.8" cy="272" rx="9" ry="3.8" fill="#000" opacity="0.95" filter="url(#b2)" transform="rotate(42 326.8 272)"/>
<ellipse cx="321.3" cy="267" rx="6.3" ry="6.5" fill="#000" filter="url(#b2)"/>
<ellipse cx="321.3" cy="267" rx="4.6" ry="4.9" fill="#000" filter="url(#b1)"/>
<ellipse cx="393.3" cy="272.3" rx="9" ry="3.8" fill="#000" opacity="0.95" filter="url(#b2)" transform="rotate(42 393.3 272.3)"/>
<ellipse cx="387.8" cy="267.3" rx="6.3" ry="6.5" fill="#000" filter="url(#b2)"/>
<ellipse cx="387.8" cy="267.3" rx="4.6" ry="4.9" fill="#000" filter="url(#b1)"/>
</g>
<rect x="447.7" y="45.2" width="8.3" height="7.8" fill="#4d4d4d"/>
<text x="460" y="52.6" font-size="11.15" fill="#1a1a1a"><tspan font-style="italic">sgs1</tspan><tspan font-size="10.5" fill="#333">Δ</tspan></text>
<rect x="447.7" y="59.6" width="8.3" height="7.8" fill="#808080"/>
<text x="460" y="67.0" font-size="11.15" fill="#1a1a1a"><tspan font-style="italic">sgs1</tspan><tspan font-size="10.5" fill="#333">Δ</tspan><tspan font-style="italic" fill="#ed1c24"> rad51-KN</tspan></text>
<rect x="447.7" y="73.8" width="8.3" height="7.8" fill="#c9c9c9"/>
<text x="460" y="81.2" font-size="11.15" fill="#1a1a1a"><tspan font-style="italic">sgs1</tspan><tspan font-size="10.5" fill="#333">Δ</tspan><tspan font-style="italic" fill="#2e3192"> rad51-ED</tspan></text>
<text x="424.7" y="157.5" font-size="12.5" text-anchor="middle" fill="#1a1a1a" transform="rotate(-90 424.7 157.5)">X-shaped molecules (a.u.)</text>
<line x1="446.8" y1="224.9" x2="449.65" y2="224.9" stroke="#000" stroke-width="1.2"/>
<text x="445.3" y="228.20000000000002" font-size="9" text-anchor="end" fill="#1a1a1a">0</text>
<line x1="446.8" y1="202.14000000000001" x2="449.65" y2="202.14000000000001" stroke="#000" stroke-width="1.2"/>
<text x="445.3" y="205.44000000000003" font-size="9" text-anchor="end" fill="#1a1a1a">20</text>
<line x1="446.8" y1="179.38" x2="449.65" y2="179.38" stroke="#000" stroke-width="1.2"/>
<text x="445.3" y="182.68" font-size="9" text-anchor="end" fill="#1a1a1a">40</text>
<line x1="446.8" y1="156.62" x2="449.65" y2="156.62" stroke="#000" stroke-width="1.2"/>
<text x="445.3" y="159.92000000000002" font-size="9" text-anchor="end" fill="#1a1a1a">60</text>
<line x1="446.8" y1="133.86" x2="449.65" y2="133.86" stroke="#000" stroke-width="1.2"/>
<text x="445.3" y="137.16000000000003" font-size="9" text-anchor="end" fill="#1a1a1a">80</text>
<line x1="446.8" y1="111.1" x2="449.65" y2="111.1" stroke="#000" stroke-width="1.2"/>
<text x="445.3" y="114.39999999999999" font-size="9" text-anchor="end" fill="#1a1a1a">100</text>
<rect x="457.2" y="156.28" width="8.25" height="68.62" fill="#4d4d4d"/>
<rect x="465.4" y="183.02" width="8.25" height="41.88" fill="#808080"/>
<rect x="473.6" y="211.70" width="8.25" height="13.20" fill="#c9c9c9"/>
<rect x="491.9" y="111.10" width="8.25" height="113.80" fill="#4d4d4d"/>
<rect x="500.0" y="170.16" width="8.25" height="54.74" fill="#808080"/>
<rect x="508.2" y="204.87" width="8.25" height="20.03" fill="#c9c9c9"/>
<rect x="526.5" y="141.03" width="8.25" height="83.87" fill="#4d4d4d"/>
<rect x="534.7" y="155.03" width="8.25" height="69.87" fill="#808080"/>
<rect x="542.9" y="209.65" width="8.25" height="15.25" fill="#c9c9c9"/>
<line x1="461.3" y1="153.8" x2="461.3" y2="156.3" stroke="#111" stroke-width="1.15"/>
<line x1="459.7" y1="153.8" x2="462.90000000000003" y2="153.8" stroke="#111" stroke-width="1.15"/>
<line x1="469.5" y1="176.8" x2="469.5" y2="182.8" stroke="#111" stroke-width="1.15"/>
<line x1="467.9" y1="176.8" x2="471.1" y2="176.8" stroke="#111" stroke-width="1.15"/>
<line x1="477.7" y1="208.6" x2="477.7" y2="211.5" stroke="#111" stroke-width="1.15"/>
<line x1="476.09999999999997" y1="208.6" x2="479.3" y2="208.6" stroke="#111" stroke-width="1.15"/>
<line x1="504.1" y1="164.2" x2="504.1" y2="170" stroke="#111" stroke-width="1.15"/>
<line x1="502.5" y1="164.2" x2="505.70000000000005" y2="164.2" stroke="#111" stroke-width="1.15"/>
<line x1="512.3" y1="199.2" x2="512.3" y2="204.6" stroke="#111" stroke-width="1.15"/>
<line x1="510.69999999999993" y1="199.2" x2="513.9" y2="199.2" stroke="#111" stroke-width="1.15"/>
<line x1="530.6" y1="136.9" x2="530.6" y2="141" stroke="#111" stroke-width="1.15"/>
<line x1="529.0" y1="136.9" x2="532.2" y2="136.9" stroke="#111" stroke-width="1.15"/>
<line x1="538.8" y1="139.7" x2="538.8" y2="155" stroke="#111" stroke-width="1.15"/>
<line x1="537.1999999999999" y1="139.7" x2="540.4" y2="139.7" stroke="#111" stroke-width="1.15"/>
<line x1="547" y1="206.6" x2="547" y2="209.3" stroke="#111" stroke-width="1.15"/>
<line x1="545.4" y1="206.6" x2="548.6" y2="206.6" stroke="#111" stroke-width="1.15"/>
<circle cx="458.6" cy="155.5" r="1.25" fill="#000"/>
<circle cx="460.7" cy="154.4" r="1.25" fill="#000"/>
<circle cx="463.2" cy="152.2" r="1.25" fill="#000"/>
<circle cx="463.7" cy="155.5" r="1.25" fill="#000"/>
<circle cx="461" cy="164.5" r="1.25" fill="#000"/>
<circle cx="468.4" cy="169.4" r="1.25" fill="#000"/>
<circle cx="468.1" cy="188" r="1.25" fill="#000"/>
<circle cx="470" cy="194.3" r="1.25" fill="#000"/>
<circle cx="475.5" cy="208.2" r="1.25" fill="#000"/>
<circle cx="477.7" cy="210.4" r="1.25" fill="#000"/>
<circle cx="479.8" cy="210.1" r="1.25" fill="#000"/>
<circle cx="475.5" cy="216.4" r="1.25" fill="#000"/>
<circle cx="492.7" cy="111.2" r="1.25" fill="#000"/>
<circle cx="494.9" cy="111.2" r="1.25" fill="#000"/>
<circle cx="497" cy="111.2" r="1.25" fill="#000"/>
<circle cx="499.2" cy="111.2" r="1.25" fill="#000"/>
<circle cx="502.8" cy="159.3" r="1.25" fill="#000"/>
<circle cx="503.9" cy="170" r="1.25" fill="#000"/>
<circle cx="505" cy="181.7" r="1.25" fill="#000"/>
<circle cx="511.8" cy="196.2" r="1.25" fill="#000"/>
<circle cx="514" cy="202.7" r="1.25" fill="#000"/>
<circle cx="511.5" cy="216.9" r="1.25" fill="#000"/>
<circle cx="527.3" cy="134.8" r="1.25" fill="#000"/>
<circle cx="530.1" cy="136.7" r="1.25" fill="#000"/>
<circle cx="532.8" cy="135.9" r="1.25" fill="#000"/>
<circle cx="529.2" cy="154.4" r="1.25" fill="#000"/>
<circle cx="538.8" cy="129.6" r="1.25" fill="#000"/>
<circle cx="539.9" cy="153.3" r="1.25" fill="#000"/>
<circle cx="537.4" cy="182.8" r="1.25" fill="#000"/>
<circle cx="547.5" cy="205.2" r="1.25" fill="#000"/>
<circle cx="548.9" cy="208.7" r="1.25" fill="#000"/>
<circle cx="545.3" cy="214.2" r="1.25" fill="#000"/>
<rect x="449.65" y="92.7" width="109.45000000000005" height="132.2" fill="none" stroke="#000" stroke-width="1.7"/>
<text x="468.3" y="237.7" font-size="9.8" text-anchor="middle" fill="#1a1a1a">60</text>
<text x="502.4" y="237.7" font-size="9.8" text-anchor="middle" fill="#1a1a1a">120</text>
<text x="538.3" y="237.7" font-size="9.8" text-anchor="middle" fill="#1a1a1a">180</text>
<line x1="456.1" y1="242.8" x2="550.6" y2="242.8" stroke="#000" stroke-width="1.2"/>
<text x="503" y="254.7" font-size="9.8" text-anchor="middle" fill="#1a1a1a">time on MMS upon</text>
<text x="502.6" y="266.5" font-size="9.8" text-anchor="middle" fill="#1a1a1a">G1 release (min)</text>
<text x="593.4" y="227" font-size="12.5" fill="#1a1a1a" transform="rotate(-90 593.4 227)">area under the curve (arb.u.)<tspan font-size="9" dy="-4.3">2</tspan></text>
<line x1="617" y1="224.9" x2="619.9" y2="224.9" stroke="#000" stroke-width="1.2"/>
<text x="615.5" y="228.20000000000002" font-size="9" text-anchor="end" fill="#1a1a1a">0</text>
<line x1="617" y1="196.4" x2="619.9" y2="196.4" stroke="#000" stroke-width="1.2"/>
<text x="615.5" y="199.70000000000002" font-size="9" text-anchor="end" fill="#1a1a1a">50</text>
<line x1="617" y1="167.9" x2="619.9" y2="167.9" stroke="#000" stroke-width="1.2"/>
<text x="615.5" y="171.20000000000002" font-size="9" text-anchor="end" fill="#1a1a1a">100</text>
<line x1="617" y1="139.40000000000003" x2="619.9" y2="139.40000000000003" stroke="#000" stroke-width="1.2"/>
<text x="615.5" y="142.70000000000005" font-size="9" text-anchor="end" fill="#1a1a1a">150</text>
<line x1="617" y1="110.90000000000002" x2="619.9" y2="110.90000000000002" stroke="#000" stroke-width="1.2"/>
<text x="615.5" y="114.20000000000002" font-size="9" text-anchor="end" fill="#1a1a1a">200</text>
<rect x="628.2" y="128.29" width="7.8" height="96.61" fill="#808080"/>
<rect x="643.3" y="170.18" width="8.4" height="54.72" fill="#808080"/>
<rect x="658.7" y="207.23" width="8.2" height="17.67" fill="#808080"/>
<line x1="647.5" y1="161" x2="647.5" y2="169.7" stroke="#111" stroke-width="1.15"/>
<line x1="645.9" y1="161" x2="649.1" y2="161" stroke="#111" stroke-width="1.15"/>
<line x1="662.6" y1="203.6" x2="662.6" y2="207.4" stroke="#111" stroke-width="1.15"/>
<line x1="661.0" y1="203.6" x2="664.2" y2="203.6" stroke="#111" stroke-width="1.15"/>
<circle cx="629.1" cy="127.3" r="1.25" fill="#000"/>
<circle cx="632.3" cy="127.3" r="1.25" fill="#000"/>
<circle cx="635.4" cy="128.4" r="1.25" fill="#000"/>
<circle cx="633" cy="130.5" r="1.25" fill="#000"/>
<circle cx="630.7" cy="132.9" r="1.25" fill="#000"/>
<circle cx="630.6" cy="127.2" r="1.25" fill="#000"/>
<circle cx="647.5" cy="154.9" r="1.25" fill="#000"/>
<circle cx="645.1" cy="169.7" r="1.25" fill="#000"/>
<circle cx="648.4" cy="185.1" r="1.25" fill="#000"/>
<circle cx="659.7" cy="205.1" r="1.25" fill="#000"/>
<circle cx="665.7" cy="202.9" r="1.25" fill="#000"/>
<circle cx="661.8" cy="216.3" r="1.25" fill="#000"/>
<rect x="619.9" y="92.7" width="54.60000000000002" height="132.2" fill="none" stroke="#000" stroke-width="1.7"/>
<line x1="632.4" y1="108.7" x2="661.7" y2="108.7" stroke="#666" stroke-width="1.35"/>
<text x="647.6" y="109.2" font-size="9.5" text-anchor="middle" fill="#1a1a1a" letter-spacing="1.3">***</text>
<line x1="632.4" y1="119.3" x2="647.9" y2="119.3" stroke="#666" stroke-width="1.35"/>
<text x="640.9" y="119.6" font-size="9.5" text-anchor="middle" fill="#1a1a1a" letter-spacing="1.3">**</text>
<line x1="647.3" y1="148.1" x2="663.6" y2="148.1" stroke="#666" stroke-width="1.35"/>
<text x="656.1" y="148.5" font-size="9.5" text-anchor="middle" fill="#1a1a1a" letter-spacing="1.3">**</text>
<text x="635.9" y="238.4" font-size="9.6" text-anchor="end" fill="#1a1a1a" transform="rotate(-45 635.9 238.4)"><tspan font-style="italic">sgs1</tspan><tspan font-size="9.1" fill="#333">Δ</tspan></text>
<text x="650.6" y="238.9" font-size="9.6" text-anchor="end" fill="#1a1a1a" transform="rotate(-45 650.6 238.9)"><tspan font-style="italic">sgs1</tspan><tspan font-size="9.1" fill="#333">Δ</tspan><tspan font-style="italic" fill="#ed1c24"> rad51-KN</tspan></text>
<text x="669.2" y="238.9" font-size="9.6" text-anchor="end" fill="#1a1a1a" transform="rotate(-45 669.2 238.9)"><tspan font-style="italic">sgs1</tspan><tspan font-size="9.1" fill="#333">Δ</tspan><tspan font-style="italic" fill="#2e3192"> rad51-ED</tspan></text>
<text x="172" y="354.4" font-size="14" text-anchor="start" fill="#1a1a1a" font-style="italic">RAD51-MN</text>
<line x1="101.1" y1="359.0" x2="304.4" y2="359.0" stroke="#000" stroke-width="1.3"/>
<text x="8.3" y="376.3" font-size="14" fill="#1a1a1a">Ca<tspan font-size="10.8" dy="-5.2">2+</tspan><tspan dy="5.2">(min):</tspan></text>
<text x="138" y="376.1" font-size="14" text-anchor="middle" fill="#1a1a1a">0</text>
<text x="270.3" y="376.1" font-size="14" text-anchor="middle" fill="#1a1a1a">15</text>
<line x1="80.4" y1="380.9" x2="192.2" y2="380.9" stroke="#000" stroke-width="1.2"/>
<line x1="214.2" y1="380.9" x2="326.4" y2="380.9" stroke="#000" stroke-width="1.2"/>
<text x="90.2" y="397.9" font-size="14.3" text-anchor="middle" fill="#1a1a1a">wt</text>
<text x="134.9" y="397.9" font-size="14.3" text-anchor="middle" fill="#2e3192" font-style="italic">ED</text>
<text x="179.3" y="397.9" font-size="14.3" text-anchor="middle" fill="#ed1c24" font-style="italic">KN</text>
<text x="224.5" y="397.9" font-size="14.3" text-anchor="middle" fill="#1a1a1a">wt</text>
<text x="268.6" y="397.9" font-size="14.3" text-anchor="middle" fill="#2e3192" font-style="italic">ED</text>
<text x="313.7" y="397.9" font-size="14.3" text-anchor="middle" fill="#ed1c24" font-style="italic">KN</text>
<line x1="76.3" y1="401.5" x2="106.6" y2="401.5" stroke="#000" stroke-width="1.3"/>
<line x1="118.5" y1="401.5" x2="149.4" y2="401.5" stroke="#000" stroke-width="1.3"/>
<line x1="162.8" y1="401.5" x2="193.7" y2="401.5" stroke="#000" stroke-width="1.3"/>
<line x1="210.6" y1="401.5" x2="240.9" y2="401.5" stroke="#000" stroke-width="1.3"/>
<line x1="252.7" y1="401.5" x2="283.9" y2="401.5" stroke="#000" stroke-width="1.3"/>
<line x1="297.1" y1="401.5" x2="327.8" y2="401.5" stroke="#000" stroke-width="1.3"/>
<text x="30.5" y="412.9" font-size="13.5" text-anchor="start" fill="#1a1a1a">MMS:</text>
<line x1="78.2" y1="412.8" x2="83.2" y2="412.8" stroke="#000" stroke-width="1.6"/>
<line x1="98.19999999999999" y1="412.1" x2="106.0" y2="412.1" stroke="#000" stroke-width="1.4"/>
<line x1="102.1" y1="408.2" x2="102.1" y2="416" stroke="#000" stroke-width="1.4"/>
<line x1="120.8" y1="412.8" x2="125.8" y2="412.8" stroke="#000" stroke-width="1.6"/>
<line x1="140.4" y1="412.1" x2="148.20000000000002" y2="412.1" stroke="#000" stroke-width="1.4"/>
<line x1="144.3" y1="408.2" x2="144.3" y2="416" stroke="#000" stroke-width="1.4"/>
<line x1="165.1" y1="412.8" x2="170.1" y2="412.8" stroke="#000" stroke-width="1.6"/>
<line x1="184.6" y1="412.1" x2="192.4" y2="412.1" stroke="#000" stroke-width="1.4"/>
<line x1="188.5" y1="408.2" x2="188.5" y2="416" stroke="#000" stroke-width="1.4"/>
<line x1="212.7" y1="412.8" x2="217.7" y2="412.8" stroke="#000" stroke-width="1.6"/>
<line x1="231.79999999999998" y1="412.1" x2="239.6" y2="412.1" stroke="#000" stroke-width="1.4"/>
<line x1="235.7" y1="408.2" x2="235.7" y2="416" stroke="#000" stroke-width="1.4"/>
<line x1="255.10000000000002" y1="412.8" x2="260.1" y2="412.8" stroke="#000" stroke-width="1.6"/>
<line x1="273.8" y1="412.1" x2="281.59999999999997" y2="412.1" stroke="#000" stroke-width="1.4"/>
<line x1="277.7" y1="408.2" x2="277.7" y2="416" stroke="#000" stroke-width="1.4"/>
<line x1="299.1" y1="412.8" x2="304.1" y2="412.8" stroke="#000" stroke-width="1.6"/>
<line x1="318.8" y1="412.1" x2="326.59999999999997" y2="412.1" stroke="#000" stroke-width="1.4"/>
<line x1="322.7" y1="408.2" x2="322.7" y2="416" stroke="#000" stroke-width="1.4"/>
<text x="42" y="436.2" font-size="10.7" text-anchor="start" fill="#1a1a1a">top</text>
<text x="32.4" y="511" font-size="10.9" text-anchor="start" fill="#1a1a1a">bottom</text>
<line x1="49" y1="446" x2="49" y2="488" stroke="#000" stroke-width="1.9"/>
<polygon points="45.3,486.5 52.7,486.5 49,495.8" fill="#000"/>
<g clip-path="url(#gbc1)">
<rect x="69" y="418" width="135" height="96" fill="#191919"/>
<rect x="69" y="418" width="135" height="96" fill="url(#gglow1)"/>
<rect x="72.7" y="414" width="16.2" height="104" fill="url(#sm10)" filter="url(#gb2)"/>
<path d="M72.9,427.6 Q73.9,430.6 80.80000000000001,430.8 Q87.7,430.6 88.7,427.6 L88.7,433.6 Q80.80000000000001,435.6 72.9,433.6 Z" fill="#fff" opacity="0.36" filter="url(#gb15)"/>
<path d="M73.2,431.5 Q80.80000000000001,432.5 88.4,431.5 L88.4,433.6 Q80.80000000000001,434.8 73.2,433.6 Z" fill="#fff" filter="url(#gb1)"/>
<path d="M74.2,432.0 Q80.80000000000001,433.0 87.4,432.0 L87.4,433.2 Q80.80000000000001,434.2 74.2,433.2 Z" fill="#fff" opacity="0.9"/>
<rect x="73.7" y="442" width="14.2" height="2" fill="#fff" opacity="0.07" filter="url(#gb15)"/>
<rect x="95" y="414" width="16.0" height="104" fill="url(#sm11)" filter="url(#gb2)"/>
<path d="M95.2,427.6 Q96.2,430.6 103.0,430.8 Q109.8,430.6 110.8,427.6 L110.8,433.6 Q103.0,435.6 95.2,433.6 Z" fill="#fff" opacity="0.36" filter="url(#gb15)"/>
<path d="M95.5,431.5 Q103.0,432.5 110.5,431.5 L110.5,433.6 Q103.0,434.8 95.5,433.6 Z" fill="#fff" filter="url(#gb1)"/>
<path d="M96.5,432.0 Q103.0,433.0 109.5,432.0 L109.5,433.2 Q103.0,434.2 96.5,433.2 Z" fill="#fff" opacity="0.9"/>
<rect x="96" y="442" width="14.0" height="2" fill="#fff" opacity="0.07" filter="url(#gb15)"/>
<rect x="117.4" y="414" width="16.6" height="104" fill="url(#sm12)" filter="url(#gb2)"/>
<path d="M117.60000000000001,427.6 Q118.60000000000001,430.6 125.7,430.8 Q132.8,430.6 133.8,427.6 L133.8,433.6 Q125.7,435.6 117.60000000000001,433.6 Z" fill="#fff" opacity="0.36" filter="url(#gb15)"/>
<path d="M117.9,431.5 Q125.7,432.5 133.5,431.5 L133.5,433.6 Q125.7,434.8 117.9,433.6 Z" fill="#fff" filter="url(#gb1)"/>
<path d="M118.9,432.0 Q125.7,433.0 132.5,432.0 L132.5,433.2 Q125.7,434.2 118.9,433.2 Z" fill="#fff" opacity="0.9"/>
<rect x="118.4" y="442" width="14.6" height="2" fill="#fff" opacity="0.05" filter="url(#gb15)"/>
<rect x="139.5" y="414" width="16.2" height="104" fill="url(#sm13)" filter="url(#gb2)"/>
<path d="M139.7,427.6 Q140.7,430.6 147.6,430.8 Q154.5,430.6 155.5,427.6 L155.5,433.6 Q147.6,435.6 139.7,433.6 Z" fill="#fff" opacity="0.36" filter="url(#gb15)"/>
<path d="M140.0,431.5 Q147.6,432.5 155.2,431.5 L155.2,433.6 Q147.6,434.8 140.0,433.6 Z" fill="#fff" filter="url(#gb1)"/>
<path d="M141.0,432.0 Q147.6,433.0 154.2,432.0 L154.2,433.2 Q147.6,434.2 141.0,433.2 Z" fill="#fff" opacity="0.9"/>
<rect x="140.5" y="442" width="14.2" height="2" fill="#fff" opacity="0.03" filter="url(#gb15)"/>
<rect x="161.9" y="414" width="15.9" height="104" fill="url(#sm14)" filter="url(#gb2)"/>
<path d="M162.1,427.6 Q163.1,430.6 169.85000000000002,430.8 Q176.60000000000002,430.6 177.60000000000002,427.6 L177.60000000000002,433.6 Q169.85000000000002,435.6 162.1,433.6 Z" fill="#fff" opacity="0.36" filter="url(#gb15)"/>
<path d="M162.4,431.5 Q169.85000000000002,432.5 177.3,431.5 L177.3,433.6 Q169.85000000000002,434.8 162.4,433.6 Z" fill="#fff" filter="url(#gb1)"/>
<path d="M163.4,432.0 Q169.85000000000002,433.0 176.3,432.0 L176.3,433.2 Q169.85000000000002,434.2 163.4,433.2 Z" fill="#fff" opacity="0.9"/>
<rect x="162.9" y="442" width="13.9" height="2" fill="#fff" opacity="0.02" filter="url(#gb15)"/>
<rect x="183.9" y="414" width="16.3" height="104" fill="url(#sm15)" filter="url(#gb2)"/>
<path d="M184.1,427.6 Q185.1,430.6 192.05,430.8 Q199.0,430.6 200.0,427.6 L200.0,433.6 Q192.05,435.6 184.1,433.6 Z" fill="#fff" opacity="0.36" filter="url(#gb15)"/>
<path d="M184.4,431.5 Q192.05,432.5 199.7,431.5 L199.7,433.6 Q192.05,434.8 184.4,433.6 Z" fill="#fff" filter="url(#gb1)"/>
<path d="M185.4,432.0 Q192.05,433.0 198.7,432.0 L198.7,433.2 Q192.05,434.2 185.4,433.2 Z" fill="#fff" opacity="0.9"/>
<rect x="184.9" y="442" width="14.3" height="2" fill="#fff" opacity="0.02" filter="url(#gb15)"/>
</g>
<g clip-path="url(#gbc2)">
<rect x="204" y="418" width="133" height="96" fill="#1c1c1c"/>
<rect x="204" y="418" width="133" height="96" fill="url(#gglow2)"/>
<rect x="208.2" y="414" width="16.5" height="104" fill="url(#s2a)" filter="url(#gb2)"/>
<path d="M208.39999999999998,426.8 Q209.39999999999998,431.2 216.45,431.4 Q223.5,431.2 224.5,426.8 L224.5,435.4 Q224.29999999999998,437.2 222.2,437.3 L210.7,437.3 Q208.6,437.2 208.39999999999998,435.4 Z" fill="#fff" opacity="0.9" filter="url(#gb15)"/>
<path d="M209.0,430.4 Q216.45,433 223.89999999999998,430.4 L223.89999999999998,435.2 Q216.45,437.4 209.0,435.2 Z" fill="#fff" filter="url(#gb1)"/>
<rect x="229.8" y="414" width="15.9" height="104" fill="url(#s2b)" filter="url(#gb2)"/>
<rect x="230.10000000000002" y="431.9" width="15.3" height="4.2" rx="1.6" fill="#fff" opacity="1" filter="url(#gb1)"/>
<rect x="251.2" y="414" width="15.4" height="104" fill="url(#s2a)" filter="url(#gb2)"/>
<path d="M251.39999999999998,426.8 Q252.39999999999998,431.2 258.9,431.4 Q265.40000000000003,431.2 266.40000000000003,426.8 L266.40000000000003,435.4 Q266.20000000000005,437.2 264.1,437.3 L253.7,437.3 Q251.6,437.2 251.39999999999998,435.4 Z" fill="#fff" opacity="0.9" filter="url(#gb15)"/>
<path d="M252.0,430.4 Q258.9,433 265.8,430.4 L265.8,435.2 Q258.9,437.4 252.0,435.2 Z" fill="#fff" filter="url(#gb1)"/>
<rect x="272.5" y="414" width="15.7" height="104" fill="url(#s2c)" filter="url(#gb2)"/>
<rect x="272.8" y="431.9" width="15.1" height="4.2" rx="1.6" fill="#fff" opacity="0.9199999999999999" filter="url(#gb1)"/>
<rect x="294.6" y="414" width="15.4" height="104" fill="url(#s2d)" filter="url(#gb2)"/>
<path d="M294.8,426.8 Q295.8,431.2 302.3,431.4 Q308.8,431.2 309.8,426.8 L309.8,435.4 Q309.6,437.2 307.5,437.3 L297.1,437.3 Q295.0,437.2 294.8,435.4 Z" fill="#fff" opacity="0.9" filter="url(#gb15)"/>
<path d="M295.40000000000003,430.4 Q302.3,433 309.2,430.4 L309.2,435.2 Q302.3,437.4 295.40000000000003,435.2 Z" fill="#fff" filter="url(#gb1)"/>
<rect x="315.7" y="414" width="15.9" height="104" fill="url(#s2e)" filter="url(#gb2)"/>
<rect x="316.0" y="431.9" width="15.3" height="4.2" rx="1.6" fill="#fff" opacity="0.84" filter="url(#gb1)"/>
</g>
<text x="433" y="378.7" font-size="12.8" text-anchor="start" fill="#1a1a1a" font-style="italic">wt</text>
<text x="508.3" y="379.3" font-size="12.4" text-anchor="start" fill="#2e3192" font-style="italic">rad51-ED</text>
<text x="604.3" y="379.3" font-size="12.4" text-anchor="start" fill="#ed1c24" font-style="italic">rad51-KN</text>
<text x="401" y="429" font-size="11" text-anchor="middle" fill="#1a1a1a" transform="rotate(-90 401 429)">DNA (arb.u.)</text>
<line x1="439" y1="398.3" x2="452.5" y2="398.3" stroke="#000" stroke-width="1.8"/>
<line x1="439" y1="410.7" x2="452.5" y2="410.7" stroke="#d8232a" stroke-width="1.8"/>
<text x="459.5" y="401.6" font-size="9.75" text-anchor="start" fill="#1a1a1a">- MMS</text>
<text x="457.5" y="414" font-size="9.75" text-anchor="start" fill="#1a1a1a">+ MMS</text>
<text x="669" y="434" font-size="8.5" text-anchor="middle" fill="#1a1a1a">0</text>
<text x="673.6" y="483.5" font-size="8.5" text-anchor="middle" fill="#1a1a1a">15</text>
<line x1="409.4" y1="446.8" x2="685" y2="446.8" stroke="#e0218a" stroke-width="1.3"/>
<path d="M410.8,445.8 C411.4,445.1 413.4,443.5 414.4,441.6 C415.4,439.7 416.1,437.4 416.8,434.4 C417.5,431.4 418.1,427.4 418.7,423.6 C419.3,419.8 419.9,415.0 420.4,411.6 C420.9,408.2 421.2,403.2 421.6,403.2 C422.0,403.2 422.4,408.6 422.8,411.6 C423.2,414.6 423.6,418.2 424.0,421.2 C424.4,424.2 424.7,427.2 425.2,429.6 C425.7,432.0 426.1,434.1 426.9,435.6 C427.7,437.1 428.9,437.6 430.0,438.4 C431.1,439.2 432.6,439.9 433.6,440.4 C434.6,440.9 435.1,441.5 436.0,441.6 C436.9,441.7 438.2,440.4 439.1,440.8 C440.0,441.2 440.3,443.3 441.2,444.0 C442.1,444.7 441.3,444.9 444.4,445.2 C447.5,445.5 454.7,445.8 460.0,445.9 C465.3,446.0 472.9,446.0 476.0,445.9 C479.1,445.8 477.9,445.2 478.7,445.2 C479.5,445.2 477.4,445.7 481.0,445.9 C484.6,446.1 496.8,446.1 500.0,446.2" fill="none" stroke="#111" stroke-width="1.3" stroke-linejoin="round"/>
<path d="M410.3,446.1 C410.9,445.3 412.9,443.1 413.9,441.2 C414.9,439.3 415.6,437.7 416.3,434.7 C417.0,431.7 417.6,427.0 418.2,423.2 C418.8,419.4 419.3,415.3 419.9,411.9 C420.5,408.5 421.4,402.8 422.0,402.8 C422.6,402.8 422.8,408.9 423.2,411.9 C423.6,414.9 424.0,417.8 424.4,420.8 C424.8,423.8 425.1,427.5 425.6,429.9 C426.1,432.3 426.5,433.7 427.3,435.2 C428.1,436.7 429.3,437.9 430.4,438.7 C431.5,439.5 433.0,439.5 434.0,440.0 C435.0,440.5 435.5,441.8 436.4,441.9 C437.3,442.0 438.6,440.0 439.5,440.4 C440.4,440.8 440.7,443.6 441.6,444.3 C442.5,445.0 441.7,444.5 444.8,444.8 C447.9,445.1 455.1,446.1 460.4,446.2 C465.7,446.3 473.3,445.6 476.4,445.5 C479.5,445.4 478.3,445.5 479.1,445.5 C479.9,445.5 477.8,445.3 481.4,445.5 C484.9,445.7 497.2,446.3 500.4,446.5" fill="none" stroke="#d8232a" stroke-width="1.3" stroke-linejoin="round"/>
<path d="M410.0,487.4 C410.3,487.2 411.4,486.5 412.0,486.0 C412.6,485.5 412.9,485.1 413.4,484.4 C413.9,483.7 414.3,482.7 414.8,481.6 C415.3,480.5 415.7,479.6 416.2,477.6 C416.7,475.6 417.3,472.1 418.0,469.5 C418.7,466.9 419.7,463.5 420.4,461.8 C421.1,460.1 421.7,459.4 422.3,459.5 C422.9,459.6 423.4,459.8 424.0,462.2 C424.6,464.6 425.1,470.3 425.9,473.9 C426.7,477.4 427.5,481.3 428.8,483.5 C430.1,485.7 431.4,486.2 433.6,487.1 C435.8,488.0 438.4,488.2 442.0,488.6 C445.6,489.0 448.7,489.4 455.0,489.6 C461.3,489.8 472.5,489.9 480.0,490.0 C487.5,490.1 496.7,490.2 500.0,490.2" fill="none" stroke="#111" stroke-width="1.3" stroke-linejoin="round"/>
<path d="M410.3,489.2 C411.0,489.1 413.3,488.8 414.5,488.5 C415.7,488.2 416.6,487.9 417.5,487.4 C418.4,486.9 419.5,486.2 420.2,485.5 C420.9,484.8 421.4,484.1 421.9,483.3 C422.4,482.5 422.9,481.6 423.2,480.6 C423.5,479.6 423.7,478.5 423.9,477.5 C424.1,476.5 424.2,475.3 424.3,474.5 C424.4,473.7 424.5,472.6 424.7,472.7 C424.9,472.8 425.3,474.0 425.6,475.0 C425.9,476.0 425.5,477.5 426.4,478.7 C427.3,479.9 429.2,481.3 431.2,482.3 C433.2,483.3 435.6,484.0 438.4,484.7 C441.2,485.4 444.0,486.0 448.0,486.6 C452.0,487.2 456.8,487.8 462.4,488.3 C468.0,488.8 475.2,489.2 481.5,489.5 C487.8,489.8 496.9,490.0 500.0,490.1" fill="none" stroke="#d8232a" stroke-width="1.3" stroke-linejoin="round"/>
<path d="M500.8,444.2 C501.3,443.0 503.0,439.9 504.0,437.0 C505.0,434.1 506.2,430.5 507.0,427.0 C507.8,423.5 508.4,419.5 509.0,416.0 C509.6,412.5 510.1,408.1 510.4,406.0 C510.7,403.9 510.7,403.3 510.9,403.6 C511.1,403.9 511.3,405.1 511.6,408.0 C511.9,410.9 512.3,417.0 512.8,421.0 C513.3,425.0 513.8,429.1 514.5,432.0 C515.2,434.9 515.9,436.8 517.0,438.5 C518.1,440.2 519.5,441.1 521.0,442.0 C522.5,442.9 524.8,443.4 526.0,443.6 C527.2,443.8 527.2,442.8 528.0,443.0 C528.8,443.2 529.0,444.2 531.0,444.6 C533.0,445.0 535.2,445.3 540.0,445.6 C544.8,445.9 551.7,446.1 560.0,446.2 C568.3,446.3 585.0,446.3 590.0,446.3" fill="none" stroke="#111" stroke-width="1.3" stroke-linejoin="round"/>
<path d="M500.4,443.6 C500.9,442.3 502.4,438.9 503.4,436.0 C504.4,433.1 505.4,429.7 506.3,426.0 C507.2,422.3 507.9,417.7 508.5,414.0 C509.1,410.3 509.6,405.9 509.9,404.0 C510.2,402.1 510.2,401.9 510.5,402.4 C510.8,402.9 511.0,404.1 511.4,407.0 C511.8,409.9 512.3,416.1 512.9,420.0 C513.5,423.9 514.1,427.8 515.0,430.6 C515.9,433.4 516.8,435.3 518.0,437.0 C519.2,438.7 520.5,439.8 522.0,440.8 C523.5,441.8 525.3,442.3 527.0,442.8 C528.7,443.3 529.7,443.4 532.0,443.8 C534.3,444.2 536.3,444.6 541.0,445.0 C545.7,445.4 551.8,445.8 560.0,446.0 C568.2,446.2 585.0,446.2 590.0,446.3" fill="none" stroke="#d8232a" stroke-width="1.3" stroke-linejoin="round"/>
<path d="M500.8,486.2 C501.5,485.8 503.7,485.4 505.0,484.0 C506.3,482.6 507.5,480.7 508.5,478.0 C509.5,475.3 510.4,470.8 511.0,468.0 C511.6,465.2 512.0,462.4 512.4,461.0 C512.8,459.6 512.9,459.5 513.1,459.6 C513.4,459.7 513.5,459.6 513.9,461.5 C514.2,463.4 514.7,467.9 515.2,471.0 C515.7,474.1 516.3,477.7 517.0,480.0 C517.7,482.3 518.5,483.8 519.5,485.0 C520.5,486.2 521.2,486.8 523.0,487.4 C524.8,488.0 526.3,488.2 530.0,488.6 C533.7,489.0 535.0,489.4 545.0,489.6 C555.0,489.9 582.5,490.0 590.0,490.1" fill="none" stroke="#111" stroke-width="1.3" stroke-linejoin="round"/>
<path d="M500.8,484.6 C501.5,484.3 503.8,484.0 505.0,483.0 C506.2,482.0 507.1,480.6 508.0,478.8 C508.9,477.0 509.8,473.8 510.5,472.0 C511.2,470.2 511.6,468.8 512.0,468.0 C512.4,467.2 512.3,467.2 512.6,467.3 C512.9,467.4 513.2,467.6 513.6,468.6 C514.0,469.6 514.4,471.7 515.0,473.5 C515.6,475.3 516.4,477.9 517.4,479.5 C518.4,481.1 519.6,482.4 521.0,483.4 C522.4,484.4 523.7,484.9 526.0,485.6 C528.3,486.3 531.0,486.8 535.0,487.4 C539.0,488.0 540.8,488.6 550.0,489.0 C559.2,489.4 583.3,489.8 590.0,490.0" fill="none" stroke="#d8232a" stroke-width="1.3" stroke-linejoin="round"/>
<path d="M593.6,441.2 C594.0,440.3 595.2,438.2 596.0,436.0 C596.8,433.8 597.8,431.3 598.5,428.0 C599.2,424.7 600.0,419.7 600.5,416.0 C601.0,412.3 601.5,408.1 601.8,406.0 C602.1,403.9 602.3,403.1 602.5,403.3 C602.7,403.5 602.9,404.1 603.2,407.0 C603.5,409.9 603.9,416.8 604.4,421.0 C604.9,425.2 605.3,429.1 606.0,432.0 C606.7,434.9 607.5,436.8 608.5,438.5 C609.5,440.2 610.4,441.1 612.0,442.0 C613.6,442.9 615.3,443.6 618.0,444.2 C620.7,444.8 622.7,445.1 628.0,445.4 C633.3,445.7 642.2,446.0 650.0,446.1 C657.8,446.2 670.8,446.3 675.0,446.3" fill="none" stroke="#111" stroke-width="1.3" stroke-linejoin="round"/>
<path d="M591.8,437.5 C592.1,436.8 593.0,434.3 593.5,433.0 C594.0,431.7 594.5,430.3 595.0,429.6 C595.5,428.9 595.9,429.0 596.4,428.6 C596.9,428.2 597.3,428.8 597.8,427.0 C598.3,425.2 599.0,421.2 599.6,418.0 C600.2,414.8 600.8,410.1 601.2,408.0 C601.6,405.9 601.7,405.4 602.0,405.6 C602.3,405.8 602.5,406.3 602.9,409.0 C603.3,411.7 603.8,418.2 604.4,422.0 C605.0,425.8 605.5,429.0 606.3,431.6 C607.1,434.2 607.9,436.0 609.0,437.6 C610.1,439.2 611.3,440.0 613.0,441.0 C614.7,442.0 616.3,442.7 619.0,443.4 C621.7,444.1 623.8,444.6 629.0,445.0 C634.2,445.4 642.3,445.8 650.0,446.0 C657.7,446.2 670.8,446.2 675.0,446.3" fill="none" stroke="#d8232a" stroke-width="1.3" stroke-linejoin="round"/>
<path d="M591.8,488.2 C592.5,487.9 594.6,487.6 596.0,486.6 C597.4,485.6 598.8,484.3 600.0,482.0 C601.2,479.7 602.5,476.0 603.4,473.0 C604.3,470.0 605.1,466.0 605.6,464.0 C606.1,462.0 606.3,461.6 606.6,461.0 C606.9,460.4 607.0,460.3 607.3,460.5 C607.6,460.7 607.9,460.4 608.2,462.0 C608.5,463.6 608.8,467.2 609.2,470.0 C609.6,472.8 610.0,476.6 610.6,479.0 C611.2,481.4 611.7,483.0 612.6,484.4 C613.5,485.8 614.4,486.7 616.0,487.4 C617.6,488.1 618.0,488.4 622.0,488.8 C626.0,489.2 631.2,489.6 640.0,489.8 C648.8,490.0 669.2,490.1 675.0,490.2" fill="none" stroke="#111" stroke-width="1.3" stroke-linejoin="round"/>
<path d="M596.0,489.0 C596.8,488.8 599.6,488.6 601.0,488.0 C602.4,487.4 603.6,486.7 604.5,485.4 C605.4,484.1 606.0,482.1 606.6,480.0 C607.2,477.9 607.6,474.7 608.0,473.0 C608.4,471.3 608.7,470.0 609.0,469.6 C609.3,469.2 609.6,469.7 609.9,470.6 C610.2,471.5 610.5,473.5 611.0,475.0 C611.5,476.5 612.0,478.3 613.0,479.6 C614.0,480.9 615.3,482.1 617.0,483.0 C618.7,483.9 620.5,484.5 623.0,485.2 C625.5,485.9 628.3,486.4 632.0,487.0 C635.7,487.6 640.3,488.2 645.0,488.6 C649.7,489.0 655.0,489.4 660.0,489.6 C665.0,489.8 672.5,489.9 675.0,490.0" fill="none" stroke="#d8232a" stroke-width="1.3" stroke-linejoin="round"/>
<line x1="409.3" y1="384.2" x2="409.3" y2="491.7" stroke="#000" stroke-width="1.7"/>
<line x1="408.5" y1="490.85" x2="685" y2="490.85" stroke="#000" stroke-width="1.7"/>
<text x="416.6" y="504.1" font-size="8.3" text-anchor="start" fill="#1a1a1a">top</text>
<text x="466" y="504.1" font-size="8.3" text-anchor="start" fill="#1a1a1a">bottom</text>
<line x1="431.7" y1="501.6" x2="453.2" y2="501.6" stroke="#000" stroke-width="1.7"/>
<polygon points="450.2,497.8 462.2,501.6 450.2,505.4" fill="#000"/>
<text x="506" y="504.1" font-size="8.3" text-anchor="start" fill="#1a1a1a">top</text>
<text x="555.5" y="504.1" font-size="8.3" text-anchor="start" fill="#1a1a1a">bottom</text>
<line x1="521.7" y1="501.6" x2="545" y2="501.6" stroke="#000" stroke-width="1.7"/>
<polygon points="542,497.8 554,501.6 542,505.4" fill="#000"/>
<text x="601" y="504.1" font-size="8.3" text-anchor="start" fill="#1a1a1a">top</text>
<text x="650.5" y="504.1" font-size="8.3" text-anchor="start" fill="#1a1a1a">bottom</text>
<line x1="616.7" y1="501.6" x2="640" y2="501.6" stroke="#000" stroke-width="1.7"/>
<polygon points="637,497.8 649,501.6 637,505.4" fill="#000"/>
</svg>
</body></html>
